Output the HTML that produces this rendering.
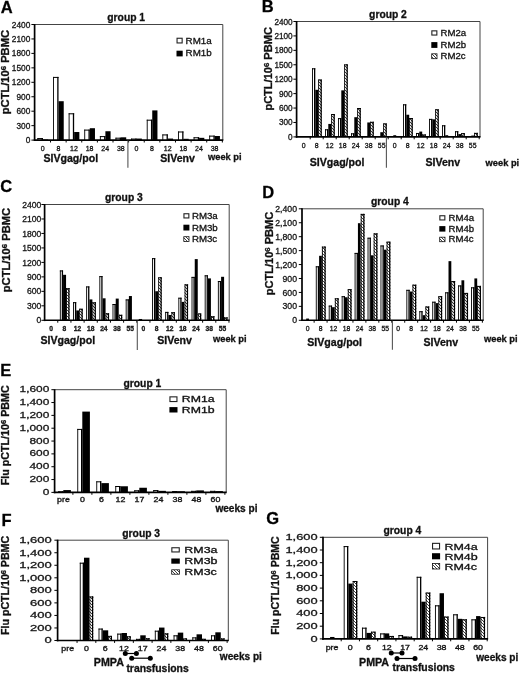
<!DOCTYPE html>
<html><head><meta charset="utf-8"><title>figure</title>
<style>
html,body{margin:0;padding:0;background:#fff;width:520px;height:674px;overflow:hidden;}
svg{display:block;font-family:"Liberation Sans", sans-serif;will-change:transform;}
text{stroke:#111;stroke-width:0.3px;}
</style></head><body>
<svg width="520" height="674" viewBox="0 0 520 674">
<rect width="520" height="674" fill="#fff"/>
<defs>
<pattern id="hatch" patternUnits="userSpaceOnUse" width="3" height="3">
<rect width="3" height="3" fill="#fff"/>
<path d="M-1,-1 L4,4 M-1,2 L1,4 M2,-1 L4,1" stroke="#000" stroke-width="0.75"/>
</pattern>
</defs>
<g>
<rect width="520" height="674" fill="#fff"/>
<line x1="34.60" y1="24.50" x2="222.80" y2="24.50" stroke="#444" stroke-width="1.0"/>
<line x1="222.80" y1="24.50" x2="222.80" y2="140.10" stroke="#444" stroke-width="1.0"/>
<rect x="37.41" y="138.07" width="5.50" height="2.03" fill="#fff"/>
<rect x="37.41" y="138.07" width="0.90" height="2.03" fill="#000"/>
<rect x="37.41" y="138.07" width="5.50" height="1.00" fill="#000"/>
<rect x="41.61" y="138.07" width="1.30" height="2.03" fill="#000"/>
<rect x="42.91" y="139.52" width="5.20" height="0.58" fill="#000"/>
<rect x="53.03" y="76.91" width="5.50" height="63.19" fill="#fff"/>
<rect x="53.03" y="76.91" width="0.90" height="63.19" fill="#000"/>
<rect x="53.03" y="76.91" width="5.50" height="1.00" fill="#000"/>
<rect x="57.23" y="76.91" width="1.30" height="63.19" fill="#000"/>
<rect x="58.53" y="101.21" width="5.20" height="38.89" fill="#000"/>
<rect x="68.65" y="113.29" width="5.50" height="26.81" fill="#fff"/>
<rect x="68.65" y="113.29" width="0.90" height="26.81" fill="#000"/>
<rect x="68.65" y="113.29" width="5.50" height="1.00" fill="#000"/>
<rect x="72.85" y="113.29" width="1.30" height="26.81" fill="#000"/>
<rect x="74.15" y="132.01" width="5.20" height="8.09" fill="#000"/>
<rect x="84.27" y="129.60" width="5.50" height="10.50" fill="#fff"/>
<rect x="84.27" y="129.60" width="0.90" height="10.50" fill="#000"/>
<rect x="84.27" y="129.60" width="5.50" height="1.00" fill="#000"/>
<rect x="88.47" y="129.60" width="1.30" height="10.50" fill="#000"/>
<rect x="89.77" y="128.21" width="5.20" height="11.89" fill="#000"/>
<rect x="99.89" y="136.10" width="5.50" height="4.00" fill="#fff"/>
<rect x="99.89" y="136.10" width="0.90" height="4.00" fill="#000"/>
<rect x="99.89" y="136.10" width="5.50" height="1.00" fill="#000"/>
<rect x="104.09" y="136.10" width="1.30" height="4.00" fill="#000"/>
<rect x="105.39" y="131.24" width="5.20" height="8.86" fill="#000"/>
<rect x="115.51" y="137.69" width="5.50" height="2.41" fill="#fff"/>
<rect x="115.51" y="137.69" width="0.90" height="2.41" fill="#000"/>
<rect x="115.51" y="137.69" width="5.50" height="1.00" fill="#000"/>
<rect x="119.71" y="137.69" width="1.30" height="2.41" fill="#000"/>
<rect x="121.01" y="137.31" width="5.20" height="2.79" fill="#000"/>
<rect x="131.13" y="138.56" width="5.50" height="1.54" fill="#fff"/>
<rect x="131.13" y="138.56" width="0.90" height="1.54" fill="#000"/>
<rect x="131.13" y="138.56" width="5.50" height="1.00" fill="#000"/>
<rect x="135.33" y="138.56" width="1.30" height="1.54" fill="#000"/>
<rect x="136.63" y="138.56" width="5.20" height="1.54" fill="#000"/>
<rect x="146.75" y="119.69" width="5.50" height="20.41" fill="#fff"/>
<rect x="146.75" y="119.69" width="0.90" height="20.41" fill="#000"/>
<rect x="146.75" y="119.69" width="5.50" height="1.00" fill="#000"/>
<rect x="150.95" y="119.69" width="1.30" height="20.41" fill="#000"/>
<rect x="152.25" y="110.40" width="5.20" height="29.70" fill="#000"/>
<rect x="162.37" y="134.42" width="5.50" height="5.68" fill="#fff"/>
<rect x="162.37" y="134.42" width="0.90" height="5.68" fill="#000"/>
<rect x="162.37" y="134.42" width="5.50" height="1.00" fill="#000"/>
<rect x="166.57" y="134.42" width="1.30" height="5.68" fill="#000"/>
<rect x="167.87" y="138.56" width="5.20" height="1.54" fill="#000"/>
<rect x="177.99" y="131.48" width="5.50" height="8.62" fill="#fff"/>
<rect x="177.99" y="131.48" width="0.90" height="8.62" fill="#000"/>
<rect x="177.99" y="131.48" width="5.50" height="1.00" fill="#000"/>
<rect x="182.19" y="131.48" width="1.30" height="8.62" fill="#000"/>
<rect x="183.49" y="138.80" width="5.20" height="1.30" fill="#000"/>
<rect x="193.61" y="137.26" width="5.50" height="2.84" fill="#fff"/>
<rect x="193.61" y="137.26" width="0.90" height="2.84" fill="#000"/>
<rect x="193.61" y="137.26" width="5.50" height="1.00" fill="#000"/>
<rect x="197.81" y="137.26" width="1.30" height="2.84" fill="#000"/>
<rect x="199.11" y="137.83" width="5.20" height="2.27" fill="#000"/>
<rect x="209.23" y="135.62" width="5.50" height="4.48" fill="#fff"/>
<rect x="209.23" y="135.62" width="0.90" height="4.48" fill="#000"/>
<rect x="209.23" y="135.62" width="5.50" height="1.00" fill="#000"/>
<rect x="213.43" y="135.62" width="1.30" height="4.48" fill="#000"/>
<rect x="214.73" y="136.01" width="5.20" height="4.09" fill="#000"/>
<line x1="34.60" y1="24.00" x2="34.60" y2="140.90" stroke="#000" stroke-width="1.7"/>
<line x1="33.80" y1="140.10" x2="223.30" y2="140.10" stroke="#000" stroke-width="1.6"/>
<line x1="31.40" y1="140.10" x2="34.60" y2="140.10" stroke="#000" stroke-width="1.0"/>
<text x="30.30" y="143.10" font-size="8.3" text-anchor="end" fill="#222">0</text>
<line x1="31.40" y1="125.65" x2="34.60" y2="125.65" stroke="#000" stroke-width="1.0"/>
<text x="30.30" y="128.65" font-size="8.3" text-anchor="end" fill="#222">300</text>
<line x1="31.40" y1="111.20" x2="34.60" y2="111.20" stroke="#000" stroke-width="1.0"/>
<text x="30.30" y="114.20" font-size="8.3" text-anchor="end" fill="#222">600</text>
<line x1="31.40" y1="96.75" x2="34.60" y2="96.75" stroke="#000" stroke-width="1.0"/>
<text x="30.30" y="99.75" font-size="8.3" text-anchor="end" fill="#222">900</text>
<line x1="31.40" y1="82.30" x2="34.60" y2="82.30" stroke="#000" stroke-width="1.0"/>
<text x="30.30" y="85.30" font-size="8.3" text-anchor="end" fill="#222">1200</text>
<line x1="31.40" y1="67.85" x2="34.60" y2="67.85" stroke="#000" stroke-width="1.0"/>
<text x="30.30" y="70.85" font-size="8.3" text-anchor="end" fill="#222">1500</text>
<line x1="31.40" y1="53.40" x2="34.60" y2="53.40" stroke="#000" stroke-width="1.0"/>
<text x="30.30" y="56.40" font-size="8.3" text-anchor="end" fill="#222">1800</text>
<line x1="31.40" y1="38.95" x2="34.60" y2="38.95" stroke="#000" stroke-width="1.0"/>
<text x="30.30" y="41.95" font-size="8.3" text-anchor="end" fill="#222">2100</text>
<line x1="31.40" y1="24.50" x2="34.60" y2="24.50" stroke="#000" stroke-width="1.0"/>
<text x="30.30" y="27.50" font-size="8.3" text-anchor="end" fill="#222">2400</text>
<line x1="50.52" y1="140.10" x2="50.52" y2="142.50" stroke="#000" stroke-width="1.0"/>
<line x1="66.14" y1="140.10" x2="66.14" y2="142.50" stroke="#000" stroke-width="1.0"/>
<line x1="81.76" y1="140.10" x2="81.76" y2="142.50" stroke="#000" stroke-width="1.0"/>
<line x1="97.38" y1="140.10" x2="97.38" y2="142.50" stroke="#000" stroke-width="1.0"/>
<line x1="113.00" y1="140.10" x2="113.00" y2="142.50" stroke="#000" stroke-width="1.0"/>
<line x1="128.62" y1="140.10" x2="128.62" y2="142.50" stroke="#000" stroke-width="1.0"/>
<line x1="144.24" y1="140.10" x2="144.24" y2="142.50" stroke="#000" stroke-width="1.0"/>
<line x1="159.86" y1="140.10" x2="159.86" y2="142.50" stroke="#000" stroke-width="1.0"/>
<line x1="175.48" y1="140.10" x2="175.48" y2="142.50" stroke="#000" stroke-width="1.0"/>
<line x1="191.10" y1="140.10" x2="191.10" y2="142.50" stroke="#000" stroke-width="1.0"/>
<line x1="206.72" y1="140.10" x2="206.72" y2="142.50" stroke="#000" stroke-width="1.0"/>
<line x1="222.34" y1="140.10" x2="222.34" y2="142.50" stroke="#000" stroke-width="1.0"/>
<text x="42.71" y="150.80" font-size="7.0" text-anchor="middle" fill="#222">0</text>
<text x="58.33" y="150.80" font-size="7.0" text-anchor="middle" fill="#222">8</text>
<text x="73.95" y="150.80" font-size="7.0" text-anchor="middle" fill="#222">12</text>
<text x="89.57" y="150.80" font-size="7.0" text-anchor="middle" fill="#222">18</text>
<text x="105.19" y="150.80" font-size="7.0" text-anchor="middle" fill="#222">24</text>
<text x="120.81" y="150.80" font-size="7.0" text-anchor="middle" fill="#222">38</text>
<text x="136.43" y="150.80" font-size="7.0" text-anchor="middle" fill="#222">0</text>
<text x="152.05" y="150.80" font-size="7.0" text-anchor="middle" fill="#222">8</text>
<text x="167.67" y="150.80" font-size="7.0" text-anchor="middle" fill="#222">12</text>
<text x="183.29" y="150.80" font-size="7.0" text-anchor="middle" fill="#222">18</text>
<text x="198.91" y="150.80" font-size="7.0" text-anchor="middle" fill="#222">24</text>
<text x="214.53" y="150.80" font-size="7.0" text-anchor="middle" fill="#222">38</text>
<line x1="127.90" y1="140.50" x2="127.90" y2="167.70" stroke="#555" stroke-width="1.1"/>
<rect x="177.05" y="38.25" width="5.10" height="4.70" fill="#fff" stroke="#222" stroke-width="1.1"/>
<text x="185.60" y="43.50" font-size="9.8" fill="#111">RM1a</text>
<rect x="176.50" y="50.70" width="6.20" height="5.70" fill="#000"/>
<text x="185.60" y="56.40" font-size="9.8" fill="#111">RM1b</text>
<text transform="translate(9.00,72.10) rotate(-90) scale(1.114,1)" text-anchor="middle" font-size="10.0" font-weight="bold" fill="#111">pCTL/10<tspan font-size="70%" dy="-3">6</tspan><tspan dy="3"> </tspan>PBMC</text>
<text x="0.80" y="13.00" font-size="16.5" font-weight="bold" fill="#000">A</text>
<text x="107.30" y="21.20" font-size="10.3" font-weight="bold" fill="#111">group 1</text>
<text x="43.40" y="161.50" font-size="10.6" font-weight="bold" fill="#111">SIVgag/pol</text>
<text x="160.20" y="161.50" font-size="10.6" font-weight="bold" fill="#111">SIVenv</text>
<text x="208.00" y="160.20" font-size="9.3" font-weight="bold" fill="#111">week pi</text>
<line x1="296.60" y1="21.50" x2="480.00" y2="21.50" stroke="#444" stroke-width="1.0"/>
<line x1="480.00" y1="21.50" x2="480.00" y2="136.90" stroke="#444" stroke-width="1.0"/>
<rect x="299.00" y="136.52" width="3.30" height="0.38" fill="#fff"/>
<rect x="299.00" y="136.52" width="0.90" height="0.38" fill="#000"/>
<rect x="299.00" y="136.52" width="3.30" height="0.38" fill="#000"/>
<rect x="301.00" y="136.52" width="1.30" height="0.38" fill="#000"/>
<rect x="302.30" y="136.03" width="2.90" height="0.87" fill="#000"/>
<rect x="305.20" y="136.52" width="3.60" height="0.38" fill="url(#hatch)"/>
<rect x="305.20" y="136.52" width="0.90" height="0.38" fill="#000"/>
<rect x="305.20" y="136.52" width="3.60" height="0.38" fill="#000"/>
<rect x="307.50" y="136.52" width="1.30" height="0.38" fill="#000"/>
<rect x="312.00" y="68.30" width="3.30" height="68.60" fill="#fff"/>
<rect x="312.00" y="68.30" width="0.90" height="68.60" fill="#000"/>
<rect x="312.00" y="68.30" width="3.30" height="1.00" fill="#000"/>
<rect x="314.00" y="68.30" width="1.30" height="68.60" fill="#000"/>
<rect x="315.30" y="89.79" width="2.90" height="47.11" fill="#000"/>
<rect x="318.20" y="79.53" width="3.60" height="57.37" fill="url(#hatch)"/>
<rect x="318.20" y="79.53" width="0.90" height="57.37" fill="#000"/>
<rect x="318.20" y="79.53" width="3.60" height="1.00" fill="#000"/>
<rect x="320.50" y="79.53" width="1.30" height="57.37" fill="#000"/>
<rect x="325.00" y="129.30" width="3.30" height="7.60" fill="#fff"/>
<rect x="325.00" y="129.30" width="0.90" height="7.60" fill="#000"/>
<rect x="325.00" y="129.30" width="3.30" height="1.00" fill="#000"/>
<rect x="327.00" y="129.30" width="1.30" height="7.60" fill="#000"/>
<rect x="328.30" y="123.93" width="2.90" height="12.97" fill="#000"/>
<rect x="331.20" y="114.00" width="3.60" height="22.90" fill="url(#hatch)"/>
<rect x="331.20" y="114.00" width="0.90" height="22.90" fill="#000"/>
<rect x="331.20" y="114.00" width="3.60" height="1.00" fill="#000"/>
<rect x="333.50" y="114.00" width="1.30" height="22.90" fill="#000"/>
<rect x="338.00" y="118.12" width="3.30" height="18.78" fill="#fff"/>
<rect x="338.00" y="118.12" width="0.90" height="18.78" fill="#000"/>
<rect x="338.00" y="118.12" width="3.30" height="1.00" fill="#000"/>
<rect x="340.00" y="118.12" width="1.30" height="18.78" fill="#000"/>
<rect x="341.30" y="90.37" width="2.90" height="46.53" fill="#000"/>
<rect x="344.20" y="64.38" width="3.60" height="72.53" fill="url(#hatch)"/>
<rect x="344.20" y="64.38" width="0.90" height="72.53" fill="#000"/>
<rect x="344.20" y="64.38" width="3.60" height="1.00" fill="#000"/>
<rect x="346.50" y="64.38" width="1.30" height="72.53" fill="#000"/>
<rect x="351.00" y="133.32" width="3.30" height="3.58" fill="#fff"/>
<rect x="351.00" y="133.32" width="0.90" height="3.58" fill="#000"/>
<rect x="351.00" y="133.32" width="3.30" height="1.00" fill="#000"/>
<rect x="353.00" y="133.32" width="1.30" height="3.58" fill="#000"/>
<rect x="354.30" y="117.20" width="2.90" height="19.70" fill="#000"/>
<rect x="357.20" y="108.00" width="3.60" height="28.90" fill="url(#hatch)"/>
<rect x="357.20" y="108.00" width="0.90" height="28.90" fill="#000"/>
<rect x="357.20" y="108.00" width="3.60" height="1.00" fill="#000"/>
<rect x="359.50" y="108.00" width="1.30" height="28.90" fill="#000"/>
<rect x="367.30" y="122.47" width="2.90" height="14.43" fill="#000"/>
<rect x="370.20" y="121.80" width="3.60" height="15.10" fill="url(#hatch)"/>
<rect x="370.20" y="121.80" width="0.90" height="15.10" fill="#000"/>
<rect x="370.20" y="121.80" width="3.60" height="1.00" fill="#000"/>
<rect x="372.50" y="121.80" width="1.30" height="15.10" fill="#000"/>
<rect x="380.30" y="132.21" width="2.90" height="4.69" fill="#000"/>
<rect x="383.20" y="123.44" width="3.60" height="13.46" fill="url(#hatch)"/>
<rect x="383.20" y="123.44" width="0.90" height="13.46" fill="#000"/>
<rect x="383.20" y="123.44" width="3.60" height="1.00" fill="#000"/>
<rect x="385.50" y="123.44" width="1.30" height="13.46" fill="#000"/>
<rect x="393.30" y="135.21" width="2.90" height="1.69" fill="#000"/>
<rect x="403.00" y="104.32" width="3.30" height="32.58" fill="#fff"/>
<rect x="403.00" y="104.32" width="0.90" height="32.58" fill="#000"/>
<rect x="403.00" y="104.32" width="3.30" height="1.00" fill="#000"/>
<rect x="405.00" y="104.32" width="1.30" height="32.58" fill="#000"/>
<rect x="406.30" y="114.73" width="2.90" height="22.17" fill="#000"/>
<rect x="409.20" y="118.02" width="3.60" height="18.88" fill="url(#hatch)"/>
<rect x="409.20" y="118.02" width="0.90" height="18.88" fill="#000"/>
<rect x="409.20" y="118.02" width="3.60" height="1.00" fill="#000"/>
<rect x="411.50" y="118.02" width="1.30" height="18.88" fill="#000"/>
<rect x="416.00" y="132.98" width="3.30" height="3.92" fill="#fff"/>
<rect x="416.00" y="132.98" width="0.90" height="3.92" fill="#000"/>
<rect x="416.00" y="132.98" width="3.30" height="1.00" fill="#000"/>
<rect x="418.00" y="132.98" width="1.30" height="3.92" fill="#000"/>
<rect x="419.30" y="131.58" width="2.90" height="5.32" fill="#000"/>
<rect x="422.20" y="134.48" width="3.60" height="2.42" fill="url(#hatch)"/>
<rect x="422.20" y="134.48" width="0.90" height="2.42" fill="#000"/>
<rect x="422.20" y="134.48" width="3.60" height="1.00" fill="#000"/>
<rect x="424.50" y="134.48" width="1.30" height="2.42" fill="#000"/>
<rect x="429.00" y="118.89" width="3.30" height="18.01" fill="#fff"/>
<rect x="429.00" y="118.89" width="0.90" height="18.01" fill="#000"/>
<rect x="429.00" y="118.89" width="3.30" height="1.00" fill="#000"/>
<rect x="431.00" y="118.89" width="1.30" height="18.01" fill="#000"/>
<rect x="432.30" y="119.33" width="2.90" height="17.57" fill="#000"/>
<rect x="435.20" y="109.31" width="3.60" height="27.59" fill="url(#hatch)"/>
<rect x="435.20" y="109.31" width="0.90" height="27.59" fill="#000"/>
<rect x="435.20" y="109.31" width="3.60" height="1.00" fill="#000"/>
<rect x="437.50" y="109.31" width="1.30" height="27.59" fill="#000"/>
<rect x="442.00" y="125.28" width="3.30" height="11.62" fill="#fff"/>
<rect x="442.00" y="125.28" width="0.90" height="11.62" fill="#000"/>
<rect x="442.00" y="125.28" width="3.30" height="1.00" fill="#000"/>
<rect x="444.00" y="125.28" width="1.30" height="11.62" fill="#000"/>
<rect x="445.30" y="135.21" width="2.90" height="1.69" fill="#000"/>
<rect x="448.20" y="136.42" width="3.60" height="0.48" fill="url(#hatch)"/>
<rect x="448.20" y="136.42" width="0.90" height="0.48" fill="#000"/>
<rect x="448.20" y="136.42" width="3.60" height="0.48" fill="#000"/>
<rect x="450.50" y="136.42" width="1.30" height="0.48" fill="#000"/>
<rect x="455.00" y="131.24" width="3.30" height="5.66" fill="#fff"/>
<rect x="455.00" y="131.24" width="0.90" height="5.66" fill="#000"/>
<rect x="455.00" y="131.24" width="3.30" height="1.00" fill="#000"/>
<rect x="457.00" y="131.24" width="1.30" height="5.66" fill="#000"/>
<rect x="458.30" y="134.09" width="2.90" height="2.81" fill="#000"/>
<rect x="461.20" y="133.13" width="3.60" height="3.77" fill="url(#hatch)"/>
<rect x="461.20" y="133.13" width="0.90" height="3.77" fill="#000"/>
<rect x="461.20" y="133.13" width="3.60" height="1.00" fill="#000"/>
<rect x="463.50" y="133.13" width="1.30" height="3.77" fill="#000"/>
<rect x="468.00" y="136.52" width="3.30" height="0.38" fill="#fff"/>
<rect x="468.00" y="136.52" width="0.90" height="0.38" fill="#000"/>
<rect x="468.00" y="136.52" width="3.30" height="0.38" fill="#000"/>
<rect x="470.00" y="136.52" width="1.30" height="0.38" fill="#000"/>
<rect x="471.30" y="135.55" width="2.90" height="1.35" fill="#000"/>
<rect x="474.20" y="132.88" width="3.60" height="4.02" fill="url(#hatch)"/>
<rect x="474.20" y="132.88" width="0.90" height="4.02" fill="#000"/>
<rect x="474.20" y="132.88" width="3.60" height="1.00" fill="#000"/>
<rect x="476.50" y="132.88" width="1.30" height="4.02" fill="#000"/>
<line x1="296.60" y1="21.00" x2="296.60" y2="137.70" stroke="#000" stroke-width="1.7"/>
<line x1="295.80" y1="136.90" x2="480.50" y2="136.90" stroke="#000" stroke-width="1.6"/>
<line x1="293.40" y1="136.90" x2="296.60" y2="136.90" stroke="#000" stroke-width="1.0"/>
<text x="292.60" y="139.90" font-size="8.2" text-anchor="end" fill="#222">0</text>
<line x1="293.40" y1="122.48" x2="296.60" y2="122.48" stroke="#000" stroke-width="1.0"/>
<text x="292.60" y="125.48" font-size="8.2" text-anchor="end" fill="#222">300</text>
<line x1="293.40" y1="108.05" x2="296.60" y2="108.05" stroke="#000" stroke-width="1.0"/>
<text x="292.60" y="111.05" font-size="8.2" text-anchor="end" fill="#222">600</text>
<line x1="293.40" y1="93.62" x2="296.60" y2="93.62" stroke="#000" stroke-width="1.0"/>
<text x="292.60" y="96.62" font-size="8.2" text-anchor="end" fill="#222">900</text>
<line x1="293.40" y1="79.20" x2="296.60" y2="79.20" stroke="#000" stroke-width="1.0"/>
<text x="292.60" y="82.20" font-size="8.2" text-anchor="end" fill="#222">1200</text>
<line x1="293.40" y1="64.77" x2="296.60" y2="64.77" stroke="#000" stroke-width="1.0"/>
<text x="292.60" y="67.77" font-size="8.2" text-anchor="end" fill="#222">1500</text>
<line x1="293.40" y1="50.35" x2="296.60" y2="50.35" stroke="#000" stroke-width="1.0"/>
<text x="292.60" y="53.35" font-size="8.2" text-anchor="end" fill="#222">1800</text>
<line x1="293.40" y1="35.92" x2="296.60" y2="35.92" stroke="#000" stroke-width="1.0"/>
<text x="292.60" y="38.92" font-size="8.2" text-anchor="end" fill="#222">2100</text>
<line x1="293.40" y1="21.50" x2="296.60" y2="21.50" stroke="#000" stroke-width="1.0"/>
<text x="292.60" y="24.50" font-size="8.2" text-anchor="end" fill="#222">2400</text>
<line x1="310.20" y1="136.90" x2="310.20" y2="139.30" stroke="#000" stroke-width="1.0"/>
<line x1="323.20" y1="136.90" x2="323.20" y2="139.30" stroke="#000" stroke-width="1.0"/>
<line x1="336.20" y1="136.90" x2="336.20" y2="139.30" stroke="#000" stroke-width="1.0"/>
<line x1="349.20" y1="136.90" x2="349.20" y2="139.30" stroke="#000" stroke-width="1.0"/>
<line x1="362.20" y1="136.90" x2="362.20" y2="139.30" stroke="#000" stroke-width="1.0"/>
<line x1="375.20" y1="136.90" x2="375.20" y2="139.30" stroke="#000" stroke-width="1.0"/>
<line x1="388.20" y1="136.90" x2="388.20" y2="139.30" stroke="#000" stroke-width="1.0"/>
<line x1="401.20" y1="136.90" x2="401.20" y2="139.30" stroke="#000" stroke-width="1.0"/>
<line x1="414.20" y1="136.90" x2="414.20" y2="139.30" stroke="#000" stroke-width="1.0"/>
<line x1="427.20" y1="136.90" x2="427.20" y2="139.30" stroke="#000" stroke-width="1.0"/>
<line x1="440.20" y1="136.90" x2="440.20" y2="139.30" stroke="#000" stroke-width="1.0"/>
<line x1="453.20" y1="136.90" x2="453.20" y2="139.30" stroke="#000" stroke-width="1.0"/>
<line x1="466.20" y1="136.90" x2="466.20" y2="139.30" stroke="#000" stroke-width="1.0"/>
<line x1="479.20" y1="136.90" x2="479.20" y2="139.30" stroke="#000" stroke-width="1.0"/>
<text x="303.70" y="148.20" font-size="6.9" text-anchor="middle" fill="#222">0</text>
<text x="316.70" y="148.20" font-size="6.9" text-anchor="middle" fill="#222">8</text>
<text x="329.70" y="148.20" font-size="6.9" text-anchor="middle" fill="#222">12</text>
<text x="342.70" y="148.20" font-size="6.9" text-anchor="middle" fill="#222">18</text>
<text x="355.70" y="148.20" font-size="6.9" text-anchor="middle" fill="#222">24</text>
<text x="368.70" y="148.20" font-size="6.9" text-anchor="middle" fill="#222">38</text>
<text x="381.70" y="148.20" font-size="6.9" text-anchor="middle" fill="#222">55</text>
<text x="394.70" y="148.20" font-size="6.9" text-anchor="middle" fill="#222">0</text>
<text x="407.70" y="148.20" font-size="6.9" text-anchor="middle" fill="#222">8</text>
<text x="420.70" y="148.20" font-size="6.9" text-anchor="middle" fill="#222">12</text>
<text x="433.70" y="148.20" font-size="6.9" text-anchor="middle" fill="#222">18</text>
<text x="446.70" y="148.20" font-size="6.9" text-anchor="middle" fill="#222">24</text>
<text x="459.70" y="148.20" font-size="6.9" text-anchor="middle" fill="#222">38</text>
<text x="472.70" y="148.20" font-size="6.9" text-anchor="middle" fill="#222">55</text>
<line x1="386.40" y1="137.50" x2="386.40" y2="167.70" stroke="#555" stroke-width="1.1"/>
<rect x="431.85" y="30.85" width="5.00" height="4.20" fill="#fff" stroke="#222" stroke-width="1.1"/>
<text x="440.50" y="35.60" font-size="9.6" fill="#111">RM2a</text>
<rect x="431.30" y="42.10" width="6.10" height="5.80" fill="#000"/>
<text x="440.50" y="47.90" font-size="9.6" fill="#111">RM2b</text>
<rect x="431.70" y="53.80" width="5.30" height="4.90" fill="url(#hatch)" stroke="#111" stroke-width="0.8"/>
<text x="440.50" y="59.10" font-size="9.6" fill="#111">RM2c</text>
<text transform="translate(272.30,68.85) rotate(-90) scale(1.107,1)" text-anchor="middle" font-size="10.0" font-weight="bold" fill="#111">pCTL/10<tspan font-size="70%" dy="-3">6</tspan><tspan dy="3"> </tspan>PBMC</text>
<text x="261.70" y="11.60" font-size="16.5" font-weight="bold" fill="#000">B</text>
<text x="369.10" y="18.20" font-size="10.3" font-weight="bold" fill="#111">group 2</text>
<text x="309.70" y="166.10" font-size="10.6" font-weight="bold" fill="#111">SIVgag/pol</text>
<text x="425.40" y="166.20" font-size="10.6" font-weight="bold" fill="#111">SIVenv</text>
<text x="485.60" y="166.20" font-size="9.3" font-weight="bold" fill="#111">week pi</text>
<line x1="44.60" y1="204.50" x2="229.20" y2="204.50" stroke="#444" stroke-width="1.0"/>
<line x1="229.20" y1="204.50" x2="229.20" y2="320.30" stroke="#444" stroke-width="1.0"/>
<rect x="59.86" y="270.42" width="3.20" height="49.88" fill="#fff"/>
<rect x="59.86" y="270.42" width="0.90" height="49.88" fill="#000"/>
<rect x="59.86" y="270.42" width="3.20" height="1.00" fill="#000"/>
<rect x="61.76" y="270.42" width="1.30" height="49.88" fill="#000"/>
<rect x="63.06" y="274.81" width="3.00" height="45.49" fill="#000"/>
<rect x="66.06" y="288.20" width="3.50" height="32.10" fill="url(#hatch)"/>
<rect x="66.06" y="288.20" width="0.90" height="32.10" fill="#000"/>
<rect x="66.06" y="288.20" width="3.50" height="1.00" fill="#000"/>
<rect x="68.26" y="288.20" width="1.30" height="32.10" fill="#000"/>
<rect x="73.03" y="302.17" width="3.20" height="18.13" fill="#fff"/>
<rect x="73.03" y="302.17" width="0.90" height="18.13" fill="#000"/>
<rect x="73.03" y="302.17" width="3.20" height="1.00" fill="#000"/>
<rect x="74.93" y="302.17" width="1.30" height="18.13" fill="#000"/>
<rect x="76.23" y="310.44" width="3.00" height="9.86" fill="#000"/>
<rect x="79.23" y="308.75" width="3.50" height="11.56" fill="url(#hatch)"/>
<rect x="79.23" y="308.75" width="0.90" height="11.56" fill="#000"/>
<rect x="79.23" y="308.75" width="3.50" height="1.00" fill="#000"/>
<rect x="81.43" y="308.75" width="1.30" height="11.56" fill="#000"/>
<rect x="86.19" y="286.41" width="3.20" height="33.89" fill="#fff"/>
<rect x="86.19" y="286.41" width="0.90" height="33.89" fill="#000"/>
<rect x="86.19" y="286.41" width="3.20" height="1.00" fill="#000"/>
<rect x="88.09" y="286.41" width="1.30" height="33.89" fill="#000"/>
<rect x="89.39" y="299.42" width="3.00" height="20.88" fill="#000"/>
<rect x="92.39" y="302.32" width="3.50" height="17.98" fill="url(#hatch)"/>
<rect x="92.39" y="302.32" width="0.90" height="17.98" fill="#000"/>
<rect x="92.39" y="302.32" width="3.50" height="1.00" fill="#000"/>
<rect x="94.59" y="302.32" width="1.30" height="17.98" fill="#000"/>
<rect x="99.37" y="276.12" width="3.20" height="44.18" fill="#fff"/>
<rect x="99.37" y="276.12" width="0.90" height="44.18" fill="#000"/>
<rect x="99.37" y="276.12" width="3.20" height="1.00" fill="#000"/>
<rect x="101.27" y="276.12" width="1.30" height="44.18" fill="#000"/>
<rect x="102.57" y="298.31" width="3.00" height="22.00" fill="#000"/>
<rect x="105.57" y="313.29" width="3.50" height="7.01" fill="url(#hatch)"/>
<rect x="105.57" y="313.29" width="0.90" height="7.01" fill="#000"/>
<rect x="105.57" y="313.29" width="3.50" height="1.00" fill="#000"/>
<rect x="107.77" y="313.29" width="1.30" height="7.01" fill="#000"/>
<rect x="112.53" y="304.01" width="3.20" height="16.29" fill="#fff"/>
<rect x="112.53" y="304.01" width="0.90" height="16.29" fill="#000"/>
<rect x="112.53" y="304.01" width="3.20" height="1.00" fill="#000"/>
<rect x="114.44" y="304.01" width="1.30" height="16.29" fill="#000"/>
<rect x="115.73" y="298.59" width="3.00" height="21.71" fill="#000"/>
<rect x="118.73" y="314.79" width="3.50" height="5.51" fill="url(#hatch)"/>
<rect x="118.73" y="314.79" width="0.90" height="5.51" fill="#000"/>
<rect x="118.73" y="314.79" width="3.50" height="1.00" fill="#000"/>
<rect x="120.94" y="314.79" width="1.30" height="5.51" fill="#000"/>
<rect x="125.71" y="299.42" width="3.20" height="20.88" fill="#fff"/>
<rect x="125.71" y="299.42" width="0.90" height="20.88" fill="#000"/>
<rect x="125.71" y="299.42" width="3.20" height="1.00" fill="#000"/>
<rect x="127.61" y="299.42" width="1.30" height="20.88" fill="#000"/>
<rect x="128.91" y="296.03" width="3.00" height="24.27" fill="#000"/>
<rect x="138.88" y="318.99" width="3.20" height="1.31" fill="#fff"/>
<rect x="138.88" y="318.99" width="0.90" height="1.31" fill="#000"/>
<rect x="138.88" y="318.99" width="3.20" height="1.00" fill="#000"/>
<rect x="140.77" y="318.99" width="1.30" height="1.31" fill="#000"/>
<rect x="152.04" y="258.14" width="3.20" height="62.16" fill="#fff"/>
<rect x="152.04" y="258.14" width="0.90" height="62.16" fill="#000"/>
<rect x="152.04" y="258.14" width="3.20" height="1.00" fill="#000"/>
<rect x="153.94" y="258.14" width="1.30" height="62.16" fill="#000"/>
<rect x="155.24" y="291.25" width="3.00" height="29.05" fill="#000"/>
<rect x="158.24" y="277.28" width="3.50" height="43.02" fill="url(#hatch)"/>
<rect x="158.24" y="277.28" width="0.90" height="43.02" fill="#000"/>
<rect x="158.24" y="277.28" width="3.50" height="1.00" fill="#000"/>
<rect x="160.44" y="277.28" width="1.30" height="43.02" fill="#000"/>
<rect x="165.22" y="311.89" width="3.20" height="8.41" fill="#fff"/>
<rect x="165.22" y="311.89" width="0.90" height="8.41" fill="#000"/>
<rect x="165.22" y="311.89" width="3.20" height="1.00" fill="#000"/>
<rect x="167.11" y="311.89" width="1.30" height="8.41" fill="#000"/>
<rect x="168.41" y="314.98" width="3.00" height="5.32" fill="#000"/>
<rect x="171.41" y="312.22" width="3.50" height="8.08" fill="url(#hatch)"/>
<rect x="171.41" y="312.22" width="0.90" height="8.08" fill="#000"/>
<rect x="171.41" y="312.22" width="3.50" height="1.00" fill="#000"/>
<rect x="173.61" y="312.22" width="1.30" height="8.08" fill="#000"/>
<rect x="178.38" y="297.72" width="3.20" height="22.58" fill="#fff"/>
<rect x="178.38" y="297.72" width="0.90" height="22.58" fill="#000"/>
<rect x="178.38" y="297.72" width="3.20" height="1.00" fill="#000"/>
<rect x="180.28" y="297.72" width="1.30" height="22.58" fill="#000"/>
<rect x="181.58" y="301.88" width="3.00" height="18.42" fill="#000"/>
<rect x="184.58" y="284.38" width="3.50" height="35.92" fill="url(#hatch)"/>
<rect x="184.58" y="284.38" width="0.90" height="35.92" fill="#000"/>
<rect x="184.58" y="284.38" width="3.50" height="1.00" fill="#000"/>
<rect x="186.78" y="284.38" width="1.30" height="35.92" fill="#000"/>
<rect x="191.56" y="276.89" width="3.20" height="43.41" fill="#fff"/>
<rect x="191.56" y="276.89" width="0.90" height="43.41" fill="#000"/>
<rect x="191.56" y="276.89" width="3.20" height="1.00" fill="#000"/>
<rect x="193.45" y="276.89" width="1.30" height="43.41" fill="#000"/>
<rect x="194.75" y="259.11" width="3.00" height="61.19" fill="#000"/>
<rect x="197.75" y="313.48" width="3.50" height="6.82" fill="url(#hatch)"/>
<rect x="197.75" y="313.48" width="0.90" height="6.82" fill="#000"/>
<rect x="197.75" y="313.48" width="3.50" height="1.00" fill="#000"/>
<rect x="199.95" y="313.48" width="1.30" height="6.82" fill="#000"/>
<rect x="204.72" y="275.30" width="3.20" height="45.00" fill="#fff"/>
<rect x="204.72" y="275.30" width="0.90" height="45.00" fill="#000"/>
<rect x="204.72" y="275.30" width="3.20" height="1.00" fill="#000"/>
<rect x="206.62" y="275.30" width="1.30" height="45.00" fill="#000"/>
<rect x="207.92" y="278.39" width="3.00" height="41.91" fill="#000"/>
<rect x="210.92" y="316.28" width="3.50" height="4.02" fill="url(#hatch)"/>
<rect x="210.92" y="316.28" width="0.90" height="4.02" fill="#000"/>
<rect x="210.92" y="316.28" width="3.50" height="1.00" fill="#000"/>
<rect x="213.12" y="316.28" width="1.30" height="4.02" fill="#000"/>
<rect x="217.89" y="281.00" width="3.20" height="39.30" fill="#fff"/>
<rect x="217.89" y="281.00" width="0.90" height="39.30" fill="#000"/>
<rect x="217.89" y="281.00" width="3.20" height="1.00" fill="#000"/>
<rect x="219.79" y="281.00" width="1.30" height="39.30" fill="#000"/>
<rect x="221.09" y="276.80" width="3.00" height="43.50" fill="#000"/>
<rect x="224.09" y="317.40" width="3.50" height="2.90" fill="url(#hatch)"/>
<rect x="224.09" y="317.40" width="0.90" height="2.90" fill="#000"/>
<rect x="224.09" y="317.40" width="3.50" height="1.00" fill="#000"/>
<rect x="226.29" y="317.40" width="1.30" height="2.90" fill="#000"/>
<line x1="44.60" y1="204.00" x2="44.60" y2="321.10" stroke="#000" stroke-width="1.7"/>
<line x1="43.80" y1="320.30" x2="229.70" y2="320.30" stroke="#000" stroke-width="1.6"/>
<line x1="41.40" y1="320.30" x2="44.60" y2="320.30" stroke="#000" stroke-width="1.0"/>
<text x="41.40" y="323.40" font-size="8.6" text-anchor="end" fill="#222">0</text>
<line x1="41.40" y1="305.82" x2="44.60" y2="305.82" stroke="#000" stroke-width="1.0"/>
<text x="41.40" y="308.93" font-size="8.6" text-anchor="end" fill="#222">300</text>
<line x1="41.40" y1="291.35" x2="44.60" y2="291.35" stroke="#000" stroke-width="1.0"/>
<text x="41.40" y="294.45" font-size="8.6" text-anchor="end" fill="#222">600</text>
<line x1="41.40" y1="276.88" x2="44.60" y2="276.88" stroke="#000" stroke-width="1.0"/>
<text x="41.40" y="279.98" font-size="8.6" text-anchor="end" fill="#222">900</text>
<line x1="41.40" y1="262.40" x2="44.60" y2="262.40" stroke="#000" stroke-width="1.0"/>
<text x="41.40" y="265.50" font-size="8.6" text-anchor="end" fill="#222">1200</text>
<line x1="41.40" y1="247.93" x2="44.60" y2="247.93" stroke="#000" stroke-width="1.0"/>
<text x="41.40" y="251.03" font-size="8.6" text-anchor="end" fill="#222">1500</text>
<line x1="41.40" y1="233.45" x2="44.60" y2="233.45" stroke="#000" stroke-width="1.0"/>
<text x="41.40" y="236.55" font-size="8.6" text-anchor="end" fill="#222">1800</text>
<line x1="41.40" y1="218.97" x2="44.60" y2="218.97" stroke="#000" stroke-width="1.0"/>
<text x="41.40" y="222.07" font-size="8.6" text-anchor="end" fill="#222">2100</text>
<line x1="41.40" y1="204.50" x2="44.60" y2="204.50" stroke="#000" stroke-width="1.0"/>
<text x="41.40" y="207.60" font-size="8.6" text-anchor="end" fill="#222">2400</text>
<line x1="57.77" y1="320.30" x2="57.77" y2="322.70" stroke="#000" stroke-width="1.0"/>
<line x1="70.94" y1="320.30" x2="70.94" y2="322.70" stroke="#000" stroke-width="1.0"/>
<line x1="84.11" y1="320.30" x2="84.11" y2="322.70" stroke="#000" stroke-width="1.0"/>
<line x1="97.28" y1="320.30" x2="97.28" y2="322.70" stroke="#000" stroke-width="1.0"/>
<line x1="110.45" y1="320.30" x2="110.45" y2="322.70" stroke="#000" stroke-width="1.0"/>
<line x1="123.62" y1="320.30" x2="123.62" y2="322.70" stroke="#000" stroke-width="1.0"/>
<line x1="136.79" y1="320.30" x2="136.79" y2="322.70" stroke="#000" stroke-width="1.0"/>
<line x1="149.96" y1="320.30" x2="149.96" y2="322.70" stroke="#000" stroke-width="1.0"/>
<line x1="163.13" y1="320.30" x2="163.13" y2="322.70" stroke="#000" stroke-width="1.0"/>
<line x1="176.30" y1="320.30" x2="176.30" y2="322.70" stroke="#000" stroke-width="1.0"/>
<line x1="189.47" y1="320.30" x2="189.47" y2="322.70" stroke="#000" stroke-width="1.0"/>
<line x1="202.64" y1="320.30" x2="202.64" y2="322.70" stroke="#000" stroke-width="1.0"/>
<line x1="215.81" y1="320.30" x2="215.81" y2="322.70" stroke="#000" stroke-width="1.0"/>
<line x1="228.98" y1="320.30" x2="228.98" y2="322.70" stroke="#000" stroke-width="1.0"/>
<text x="51.19" y="331.00" font-size="6.7" font-weight="bold" text-anchor="middle" fill="#222">0</text>
<text x="64.36" y="331.00" font-size="6.7" font-weight="bold" text-anchor="middle" fill="#222">8</text>
<text x="77.53" y="331.00" font-size="6.7" font-weight="bold" text-anchor="middle" fill="#222">12</text>
<text x="90.69" y="331.00" font-size="6.7" font-weight="bold" text-anchor="middle" fill="#222">18</text>
<text x="103.87" y="331.00" font-size="6.7" font-weight="bold" text-anchor="middle" fill="#222">24</text>
<text x="117.03" y="331.00" font-size="6.7" font-weight="bold" text-anchor="middle" fill="#222">38</text>
<text x="130.21" y="331.00" font-size="6.7" font-weight="bold" text-anchor="middle" fill="#222">55</text>
<text x="143.38" y="331.00" font-size="6.7" font-weight="bold" text-anchor="middle" fill="#222">0</text>
<text x="156.54" y="331.00" font-size="6.7" font-weight="bold" text-anchor="middle" fill="#222">8</text>
<text x="169.72" y="331.00" font-size="6.7" font-weight="bold" text-anchor="middle" fill="#222">12</text>
<text x="182.88" y="331.00" font-size="6.7" font-weight="bold" text-anchor="middle" fill="#222">18</text>
<text x="196.06" y="331.00" font-size="6.7" font-weight="bold" text-anchor="middle" fill="#222">24</text>
<text x="209.22" y="331.00" font-size="6.7" font-weight="bold" text-anchor="middle" fill="#222">38</text>
<text x="222.39" y="331.00" font-size="6.7" font-weight="bold" text-anchor="middle" fill="#222">55</text>
<line x1="137.30" y1="320.80" x2="137.30" y2="350.00" stroke="#555" stroke-width="1.1"/>
<rect x="183.95" y="213.75" width="4.90" height="4.20" fill="#fff" stroke="#222" stroke-width="1.1"/>
<text x="191.90" y="218.70" font-size="9.7" fill="#111">RM3a</text>
<rect x="183.40" y="224.70" width="6.00" height="5.80" fill="#000"/>
<text x="191.90" y="230.80" font-size="9.7" fill="#111">RM3b</text>
<rect x="183.80" y="236.70" width="5.20" height="4.90" fill="url(#hatch)" stroke="#111" stroke-width="0.8"/>
<text x="191.90" y="242.30" font-size="9.7" fill="#111">RM3c</text>
<text transform="translate(10.20,250.10) rotate(-90) scale(1.116,1)" text-anchor="middle" font-size="10.0" font-weight="bold" fill="#111">pCTL/10<tspan font-size="70%" dy="-3">6</tspan><tspan dy="3"> </tspan>PBMC</text>
<text x="0.30" y="192.30" font-size="16.5" font-weight="bold" fill="#000">C</text>
<text x="105.00" y="200.60" font-size="10.3" font-weight="bold" fill="#111">group 3</text>
<text x="40.40" y="344.30" font-size="10.6" font-weight="bold" fill="#111">SIVgag/pol</text>
<text x="157.20" y="344.30" font-size="10.6" font-weight="bold" fill="#111">SIVenv</text>
<text x="213.00" y="342.30" font-size="9.3" font-weight="bold" fill="#111">week pi</text>
<line x1="302.00" y1="208.80" x2="483.20" y2="208.80" stroke="#444" stroke-width="1.0"/>
<line x1="483.20" y1="208.80" x2="483.20" y2="320.30" stroke="#444" stroke-width="1.0"/>
<rect x="306.17" y="318.56" width="2.80" height="1.74" fill="#000"/>
<rect x="315.81" y="266.30" width="3.30" height="54.00" fill="#fff"/>
<rect x="315.81" y="266.30" width="0.90" height="54.00" fill="#000"/>
<rect x="315.81" y="266.30" width="3.30" height="1.00" fill="#000"/>
<rect x="317.81" y="266.30" width="1.30" height="54.00" fill="#000"/>
<rect x="319.11" y="255.81" width="2.80" height="64.49" fill="#000"/>
<rect x="321.91" y="246.60" width="3.80" height="73.70" fill="url(#hatch)"/>
<rect x="321.91" y="246.60" width="0.90" height="73.70" fill="#000"/>
<rect x="321.91" y="246.60" width="3.80" height="1.00" fill="#000"/>
<rect x="324.41" y="246.60" width="1.30" height="73.70" fill="#000"/>
<rect x="328.75" y="305.60" width="3.30" height="14.70" fill="#fff"/>
<rect x="328.75" y="305.60" width="0.90" height="14.70" fill="#000"/>
<rect x="328.75" y="305.60" width="3.30" height="1.00" fill="#000"/>
<rect x="330.75" y="305.60" width="1.30" height="14.70" fill="#000"/>
<rect x="332.05" y="307.19" width="2.80" height="13.11" fill="#000"/>
<rect x="334.85" y="298.30" width="3.80" height="22.00" fill="url(#hatch)"/>
<rect x="334.85" y="298.30" width="0.90" height="22.00" fill="#000"/>
<rect x="334.85" y="298.30" width="3.80" height="1.00" fill="#000"/>
<rect x="337.35" y="298.30" width="1.30" height="22.00" fill="#000"/>
<rect x="341.69" y="296.20" width="3.30" height="24.10" fill="#fff"/>
<rect x="341.69" y="296.20" width="0.90" height="24.10" fill="#000"/>
<rect x="341.69" y="296.20" width="3.30" height="1.00" fill="#000"/>
<rect x="343.69" y="296.20" width="1.30" height="24.10" fill="#000"/>
<rect x="344.99" y="297.27" width="2.80" height="23.03" fill="#000"/>
<rect x="347.79" y="289.18" width="3.80" height="31.12" fill="url(#hatch)"/>
<rect x="347.79" y="289.18" width="0.90" height="31.12" fill="#000"/>
<rect x="347.79" y="289.18" width="3.80" height="1.00" fill="#000"/>
<rect x="350.29" y="289.18" width="1.30" height="31.12" fill="#000"/>
<rect x="354.63" y="252.91" width="3.30" height="67.39" fill="#fff"/>
<rect x="354.63" y="252.91" width="0.90" height="67.39" fill="#000"/>
<rect x="354.63" y="252.91" width="3.30" height="1.00" fill="#000"/>
<rect x="356.63" y="252.91" width="1.30" height="67.39" fill="#000"/>
<rect x="357.93" y="223.20" width="2.80" height="97.10" fill="#000"/>
<rect x="360.73" y="213.89" width="3.80" height="106.41" fill="url(#hatch)"/>
<rect x="360.73" y="213.89" width="0.90" height="106.41" fill="#000"/>
<rect x="360.73" y="213.89" width="3.80" height="1.00" fill="#000"/>
<rect x="363.23" y="213.89" width="1.30" height="106.41" fill="#000"/>
<rect x="367.57" y="237.71" width="3.30" height="82.59" fill="#fff"/>
<rect x="367.57" y="237.71" width="0.90" height="82.59" fill="#000"/>
<rect x="367.57" y="237.71" width="3.30" height="1.00" fill="#000"/>
<rect x="369.57" y="237.71" width="1.30" height="82.59" fill="#000"/>
<rect x="370.87" y="255.30" width="2.80" height="65.00" fill="#000"/>
<rect x="373.67" y="233.40" width="3.80" height="86.90" fill="url(#hatch)"/>
<rect x="373.67" y="233.40" width="0.90" height="86.90" fill="#000"/>
<rect x="373.67" y="233.40" width="3.80" height="1.00" fill="#000"/>
<rect x="376.17" y="233.40" width="1.30" height="86.90" fill="#000"/>
<rect x="380.51" y="245.47" width="3.30" height="74.83" fill="#fff"/>
<rect x="380.51" y="245.47" width="0.90" height="74.83" fill="#000"/>
<rect x="380.51" y="245.47" width="3.30" height="1.00" fill="#000"/>
<rect x="382.51" y="245.47" width="1.30" height="74.83" fill="#000"/>
<rect x="383.81" y="249.68" width="2.80" height="70.62" fill="#000"/>
<rect x="386.61" y="241.68" width="3.80" height="78.62" fill="url(#hatch)"/>
<rect x="386.61" y="241.68" width="0.90" height="78.62" fill="#000"/>
<rect x="386.61" y="241.68" width="3.80" height="1.00" fill="#000"/>
<rect x="389.11" y="241.68" width="1.30" height="78.62" fill="#000"/>
<rect x="406.39" y="289.83" width="3.30" height="30.47" fill="#fff"/>
<rect x="406.39" y="289.83" width="0.90" height="30.47" fill="#000"/>
<rect x="406.39" y="289.83" width="3.30" height="1.00" fill="#000"/>
<rect x="408.39" y="289.83" width="1.30" height="30.47" fill="#000"/>
<rect x="409.69" y="291.52" width="2.80" height="28.78" fill="#000"/>
<rect x="412.49" y="284.69" width="3.80" height="35.61" fill="url(#hatch)"/>
<rect x="412.49" y="284.69" width="0.90" height="35.61" fill="#000"/>
<rect x="412.49" y="284.69" width="3.80" height="1.00" fill="#000"/>
<rect x="414.99" y="284.69" width="1.30" height="35.61" fill="#000"/>
<rect x="419.33" y="311.22" width="3.30" height="9.08" fill="#fff"/>
<rect x="419.33" y="311.22" width="0.90" height="9.08" fill="#000"/>
<rect x="419.33" y="311.22" width="3.30" height="1.00" fill="#000"/>
<rect x="421.33" y="311.22" width="1.30" height="9.08" fill="#000"/>
<rect x="422.63" y="315.19" width="2.80" height="5.11" fill="#000"/>
<rect x="425.43" y="306.49" width="3.80" height="13.81" fill="url(#hatch)"/>
<rect x="425.43" y="306.49" width="0.90" height="13.81" fill="#000"/>
<rect x="425.43" y="306.49" width="3.80" height="1.00" fill="#000"/>
<rect x="427.93" y="306.49" width="1.30" height="13.81" fill="#000"/>
<rect x="432.27" y="301.72" width="3.30" height="18.58" fill="#fff"/>
<rect x="432.27" y="301.72" width="0.90" height="18.58" fill="#000"/>
<rect x="432.27" y="301.72" width="3.30" height="1.00" fill="#000"/>
<rect x="434.27" y="301.72" width="1.30" height="18.58" fill="#000"/>
<rect x="435.57" y="303.12" width="2.80" height="17.18" fill="#000"/>
<rect x="438.37" y="296.20" width="3.80" height="24.10" fill="url(#hatch)"/>
<rect x="438.37" y="296.20" width="0.90" height="24.10" fill="#000"/>
<rect x="438.37" y="296.20" width="3.80" height="1.00" fill="#000"/>
<rect x="440.87" y="296.20" width="1.30" height="24.10" fill="#000"/>
<rect x="445.21" y="292.31" width="3.30" height="27.99" fill="#fff"/>
<rect x="445.21" y="292.31" width="0.90" height="27.99" fill="#000"/>
<rect x="445.21" y="292.31" width="3.30" height="1.00" fill="#000"/>
<rect x="447.21" y="292.31" width="1.30" height="27.99" fill="#000"/>
<rect x="448.51" y="261.15" width="2.80" height="59.15" fill="#000"/>
<rect x="451.31" y="281.04" width="3.80" height="39.26" fill="url(#hatch)"/>
<rect x="451.31" y="281.04" width="0.90" height="39.26" fill="#000"/>
<rect x="451.31" y="281.04" width="3.80" height="1.00" fill="#000"/>
<rect x="453.81" y="281.04" width="1.30" height="39.26" fill="#000"/>
<rect x="458.15" y="285.43" width="3.30" height="34.87" fill="#fff"/>
<rect x="458.15" y="285.43" width="0.90" height="34.87" fill="#000"/>
<rect x="458.15" y="285.43" width="3.30" height="1.00" fill="#000"/>
<rect x="460.15" y="285.43" width="1.30" height="34.87" fill="#000"/>
<rect x="461.45" y="280.29" width="2.80" height="40.01" fill="#000"/>
<rect x="464.25" y="292.92" width="3.80" height="27.38" fill="url(#hatch)"/>
<rect x="464.25" y="292.92" width="0.90" height="27.38" fill="#000"/>
<rect x="464.25" y="292.92" width="3.80" height="1.00" fill="#000"/>
<rect x="466.75" y="292.92" width="1.30" height="27.38" fill="#000"/>
<rect x="471.09" y="287.31" width="3.30" height="32.99" fill="#fff"/>
<rect x="471.09" y="287.31" width="0.90" height="32.99" fill="#000"/>
<rect x="471.09" y="287.31" width="3.30" height="1.00" fill="#000"/>
<rect x="473.09" y="287.31" width="1.30" height="32.99" fill="#000"/>
<rect x="474.39" y="278.42" width="2.80" height="41.88" fill="#000"/>
<rect x="477.19" y="285.90" width="3.80" height="34.40" fill="url(#hatch)"/>
<rect x="477.19" y="285.90" width="0.90" height="34.40" fill="#000"/>
<rect x="477.19" y="285.90" width="3.80" height="1.00" fill="#000"/>
<rect x="479.69" y="285.90" width="1.30" height="34.40" fill="#000"/>
<line x1="302.00" y1="208.30" x2="302.00" y2="321.10" stroke="#000" stroke-width="1.7"/>
<line x1="301.20" y1="320.30" x2="483.70" y2="320.30" stroke="#000" stroke-width="1.6"/>
<line x1="298.80" y1="320.30" x2="302.00" y2="320.30" stroke="#000" stroke-width="1.0"/>
<text x="297.00" y="323.40" font-size="8.7" text-anchor="end" fill="#222">0</text>
<line x1="298.80" y1="306.36" x2="302.00" y2="306.36" stroke="#000" stroke-width="1.0"/>
<text x="297.00" y="309.46" font-size="8.7" text-anchor="end" fill="#222">300</text>
<line x1="298.80" y1="292.43" x2="302.00" y2="292.43" stroke="#000" stroke-width="1.0"/>
<text x="297.00" y="295.53" font-size="8.7" text-anchor="end" fill="#222">600</text>
<line x1="298.80" y1="278.49" x2="302.00" y2="278.49" stroke="#000" stroke-width="1.0"/>
<text x="297.00" y="281.59" font-size="8.7" text-anchor="end" fill="#222">900</text>
<line x1="298.80" y1="264.55" x2="302.00" y2="264.55" stroke="#000" stroke-width="1.0"/>
<text x="297.00" y="267.65" font-size="8.7" text-anchor="end" fill="#222">1,200</text>
<line x1="298.80" y1="250.61" x2="302.00" y2="250.61" stroke="#000" stroke-width="1.0"/>
<text x="297.00" y="253.71" font-size="8.7" text-anchor="end" fill="#222">1,500</text>
<line x1="298.80" y1="236.68" x2="302.00" y2="236.68" stroke="#000" stroke-width="1.0"/>
<text x="297.00" y="239.78" font-size="8.7" text-anchor="end" fill="#222">1,800</text>
<line x1="298.80" y1="222.74" x2="302.00" y2="222.74" stroke="#000" stroke-width="1.0"/>
<text x="297.00" y="225.84" font-size="8.7" text-anchor="end" fill="#222">2,100</text>
<line x1="298.80" y1="208.80" x2="302.00" y2="208.80" stroke="#000" stroke-width="1.0"/>
<text x="297.00" y="211.90" font-size="8.7" text-anchor="end" fill="#222">2,400</text>
<line x1="314.14" y1="320.30" x2="314.14" y2="322.70" stroke="#000" stroke-width="1.0"/>
<line x1="327.08" y1="320.30" x2="327.08" y2="322.70" stroke="#000" stroke-width="1.0"/>
<line x1="340.02" y1="320.30" x2="340.02" y2="322.70" stroke="#000" stroke-width="1.0"/>
<line x1="352.96" y1="320.30" x2="352.96" y2="322.70" stroke="#000" stroke-width="1.0"/>
<line x1="365.90" y1="320.30" x2="365.90" y2="322.70" stroke="#000" stroke-width="1.0"/>
<line x1="378.84" y1="320.30" x2="378.84" y2="322.70" stroke="#000" stroke-width="1.0"/>
<line x1="391.78" y1="320.30" x2="391.78" y2="322.70" stroke="#000" stroke-width="1.0"/>
<line x1="404.72" y1="320.30" x2="404.72" y2="322.70" stroke="#000" stroke-width="1.0"/>
<line x1="417.66" y1="320.30" x2="417.66" y2="322.70" stroke="#000" stroke-width="1.0"/>
<line x1="430.60" y1="320.30" x2="430.60" y2="322.70" stroke="#000" stroke-width="1.0"/>
<line x1="443.54" y1="320.30" x2="443.54" y2="322.70" stroke="#000" stroke-width="1.0"/>
<line x1="456.48" y1="320.30" x2="456.48" y2="322.70" stroke="#000" stroke-width="1.0"/>
<line x1="469.42" y1="320.30" x2="469.42" y2="322.70" stroke="#000" stroke-width="1.0"/>
<line x1="482.36" y1="320.30" x2="482.36" y2="322.70" stroke="#000" stroke-width="1.0"/>
<text x="307.67" y="331.00" font-size="6.8" text-anchor="middle" fill="#222">0</text>
<text x="320.61" y="331.00" font-size="6.8" text-anchor="middle" fill="#222">8</text>
<text x="333.55" y="331.00" font-size="6.8" text-anchor="middle" fill="#222">12</text>
<text x="346.49" y="331.00" font-size="6.8" text-anchor="middle" fill="#222">18</text>
<text x="359.43" y="331.00" font-size="6.8" text-anchor="middle" fill="#222">24</text>
<text x="372.37" y="331.00" font-size="6.8" text-anchor="middle" fill="#222">38</text>
<text x="385.31" y="331.00" font-size="6.8" text-anchor="middle" fill="#222">55</text>
<text x="398.25" y="331.00" font-size="6.8" text-anchor="middle" fill="#222">0</text>
<text x="411.19" y="331.00" font-size="6.8" text-anchor="middle" fill="#222">8</text>
<text x="424.13" y="331.00" font-size="6.8" text-anchor="middle" fill="#222">12</text>
<text x="437.07" y="331.00" font-size="6.8" text-anchor="middle" fill="#222">18</text>
<text x="450.01" y="331.00" font-size="6.8" text-anchor="middle" fill="#222">24</text>
<text x="462.95" y="331.00" font-size="6.8" text-anchor="middle" fill="#222">38</text>
<text x="475.89" y="331.00" font-size="6.8" text-anchor="middle" fill="#222">55</text>
<line x1="392.40" y1="320.80" x2="392.40" y2="349.70" stroke="#555" stroke-width="1.1"/>
<rect x="439.85" y="215.75" width="5.00" height="4.20" fill="#fff" stroke="#222" stroke-width="1.1"/>
<text x="448.50" y="220.70" font-size="9.6" fill="#111">RM4a</text>
<rect x="439.30" y="226.10" width="6.10" height="5.50" fill="#000"/>
<text x="448.50" y="231.60" font-size="9.6" fill="#111">RM4b</text>
<rect x="439.70" y="237.20" width="5.30" height="4.50" fill="url(#hatch)" stroke="#111" stroke-width="0.8"/>
<text x="448.50" y="242.40" font-size="9.6" fill="#111">RM4c</text>
<text transform="translate(273.00,253.50) rotate(-90) scale(1.108,1)" text-anchor="middle" font-size="10.0" font-weight="bold" fill="#111">pCTL/10<tspan font-size="70%" dy="-3">6</tspan><tspan dy="3"> </tspan>PBMC</text>
<text x="262.20" y="198.10" font-size="16.5" font-weight="bold" fill="#000">D</text>
<text x="371.00" y="205.00" font-size="10.3" font-weight="bold" fill="#111">group 4</text>
<text x="307.30" y="346.10" font-size="10.6" font-weight="bold" fill="#111">SIVgag/pol</text>
<text x="423.40" y="345.50" font-size="10.6" font-weight="bold" fill="#111">SIVenv</text>
<text x="484.00" y="341.80" font-size="9.3" font-weight="bold" fill="#111">week pi</text>
<line x1="54.60" y1="389.70" x2="226.20" y2="389.70" stroke="#444" stroke-width="1.0"/>
<line x1="226.20" y1="389.70" x2="226.20" y2="492.40" stroke="#444" stroke-width="1.0"/>
<rect x="58.30" y="491.23" width="5.00" height="1.17" fill="#fff"/>
<rect x="58.30" y="491.23" width="0.90" height="1.17" fill="#000"/>
<rect x="58.30" y="491.23" width="5.00" height="1.00" fill="#000"/>
<rect x="62.00" y="491.23" width="1.30" height="1.17" fill="#000"/>
<rect x="63.30" y="490.07" width="7.60" height="2.33" fill="#000"/>
<rect x="77.30" y="428.91" width="5.00" height="63.49" fill="#fff"/>
<rect x="77.30" y="428.91" width="0.90" height="63.49" fill="#000"/>
<rect x="77.30" y="428.91" width="5.00" height="1.00" fill="#000"/>
<rect x="81.00" y="428.91" width="1.30" height="63.49" fill="#000"/>
<rect x="82.30" y="411.60" width="7.60" height="80.80" fill="#000"/>
<rect x="96.30" y="481.31" width="5.00" height="11.09" fill="#fff"/>
<rect x="96.30" y="481.31" width="0.90" height="11.09" fill="#000"/>
<rect x="96.30" y="481.31" width="5.00" height="1.00" fill="#000"/>
<rect x="100.00" y="481.31" width="1.30" height="11.09" fill="#000"/>
<rect x="101.30" y="483.12" width="7.60" height="9.28" fill="#000"/>
<rect x="115.30" y="486.01" width="5.00" height="6.39" fill="#fff"/>
<rect x="115.30" y="486.01" width="0.90" height="6.39" fill="#000"/>
<rect x="115.30" y="486.01" width="5.00" height="1.00" fill="#000"/>
<rect x="119.00" y="486.01" width="1.30" height="6.39" fill="#000"/>
<rect x="120.30" y="486.27" width="7.60" height="6.13" fill="#000"/>
<rect x="134.30" y="490.26" width="5.00" height="2.14" fill="#fff"/>
<rect x="134.30" y="490.26" width="0.90" height="2.14" fill="#000"/>
<rect x="134.30" y="490.26" width="5.00" height="1.00" fill="#000"/>
<rect x="138.00" y="490.26" width="1.30" height="2.14" fill="#000"/>
<rect x="139.30" y="487.75" width="7.60" height="4.65" fill="#000"/>
<rect x="153.30" y="490.07" width="5.00" height="2.33" fill="#fff"/>
<rect x="153.30" y="490.07" width="0.90" height="2.33" fill="#000"/>
<rect x="153.30" y="490.07" width="5.00" height="1.00" fill="#000"/>
<rect x="157.00" y="490.07" width="1.30" height="2.33" fill="#000"/>
<rect x="158.30" y="490.84" width="7.60" height="1.56" fill="#000"/>
<rect x="172.30" y="491.03" width="5.00" height="1.37" fill="#fff"/>
<rect x="172.30" y="491.03" width="0.90" height="1.37" fill="#000"/>
<rect x="172.30" y="491.03" width="5.00" height="1.00" fill="#000"/>
<rect x="176.00" y="491.03" width="1.30" height="1.37" fill="#000"/>
<rect x="177.30" y="491.23" width="7.60" height="1.17" fill="#000"/>
<rect x="191.30" y="490.84" width="5.00" height="1.56" fill="#fff"/>
<rect x="191.30" y="490.84" width="0.90" height="1.56" fill="#000"/>
<rect x="191.30" y="490.84" width="5.00" height="1.00" fill="#000"/>
<rect x="195.00" y="490.84" width="1.30" height="1.56" fill="#000"/>
<rect x="196.30" y="490.39" width="7.60" height="2.01" fill="#000"/>
<rect x="210.30" y="490.84" width="5.00" height="1.56" fill="#fff"/>
<rect x="210.30" y="490.84" width="0.90" height="1.56" fill="#000"/>
<rect x="210.30" y="490.84" width="5.00" height="1.00" fill="#000"/>
<rect x="214.00" y="490.84" width="1.30" height="1.56" fill="#000"/>
<rect x="215.30" y="491.10" width="7.60" height="1.30" fill="#000"/>
<line x1="54.60" y1="389.20" x2="54.60" y2="493.20" stroke="#000" stroke-width="1.7"/>
<line x1="53.80" y1="492.40" x2="226.70" y2="492.40" stroke="#000" stroke-width="1.6"/>
<line x1="51.40" y1="492.40" x2="54.60" y2="492.40" stroke="#000" stroke-width="1.0"/>
<text x="0.00" y="0.00" font-size="9.5" text-anchor="end" fill="#222" transform="translate(49.30,495.00) scale(1.253,1)">0</text>
<line x1="51.40" y1="479.56" x2="54.60" y2="479.56" stroke="#000" stroke-width="1.0"/>
<text x="0.00" y="0.00" font-size="9.5" text-anchor="end" fill="#222" transform="translate(49.30,482.16) scale(1.253,1)">200</text>
<line x1="51.40" y1="466.72" x2="54.60" y2="466.72" stroke="#000" stroke-width="1.0"/>
<text x="0.00" y="0.00" font-size="9.5" text-anchor="end" fill="#222" transform="translate(49.30,469.32) scale(1.253,1)">400</text>
<line x1="51.40" y1="453.89" x2="54.60" y2="453.89" stroke="#000" stroke-width="1.0"/>
<text x="0.00" y="0.00" font-size="9.5" text-anchor="end" fill="#222" transform="translate(49.30,456.49) scale(1.253,1)">600</text>
<line x1="51.40" y1="441.05" x2="54.60" y2="441.05" stroke="#000" stroke-width="1.0"/>
<text x="0.00" y="0.00" font-size="9.5" text-anchor="end" fill="#222" transform="translate(49.30,443.65) scale(1.253,1)">800</text>
<line x1="51.40" y1="428.21" x2="54.60" y2="428.21" stroke="#000" stroke-width="1.0"/>
<text x="0.00" y="0.00" font-size="9.5" text-anchor="end" fill="#222" transform="translate(49.30,430.81) scale(1.253,1)">1,000</text>
<line x1="51.40" y1="415.38" x2="54.60" y2="415.38" stroke="#000" stroke-width="1.0"/>
<text x="0.00" y="0.00" font-size="9.5" text-anchor="end" fill="#222" transform="translate(49.30,417.98) scale(1.253,1)">1,200</text>
<line x1="51.40" y1="402.54" x2="54.60" y2="402.54" stroke="#000" stroke-width="1.0"/>
<text x="0.00" y="0.00" font-size="9.5" text-anchor="end" fill="#222" transform="translate(49.30,405.14) scale(1.253,1)">1,400</text>
<line x1="51.40" y1="389.70" x2="54.60" y2="389.70" stroke="#000" stroke-width="1.0"/>
<text x="0.00" y="0.00" font-size="9.5" text-anchor="end" fill="#222" transform="translate(49.30,392.30) scale(1.253,1)">1,600</text>
<line x1="72.90" y1="492.40" x2="72.90" y2="494.80" stroke="#000" stroke-width="1.0"/>
<line x1="91.90" y1="492.40" x2="91.90" y2="494.80" stroke="#000" stroke-width="1.0"/>
<line x1="110.90" y1="492.40" x2="110.90" y2="494.80" stroke="#000" stroke-width="1.0"/>
<line x1="129.90" y1="492.40" x2="129.90" y2="494.80" stroke="#000" stroke-width="1.0"/>
<line x1="148.90" y1="492.40" x2="148.90" y2="494.80" stroke="#000" stroke-width="1.0"/>
<line x1="167.90" y1="492.40" x2="167.90" y2="494.80" stroke="#000" stroke-width="1.0"/>
<line x1="186.90" y1="492.40" x2="186.90" y2="494.80" stroke="#000" stroke-width="1.0"/>
<line x1="205.90" y1="492.40" x2="205.90" y2="494.80" stroke="#000" stroke-width="1.0"/>
<line x1="224.90" y1="492.40" x2="224.90" y2="494.80" stroke="#000" stroke-width="1.0"/>
<text x="0.00" y="0.00" font-size="6.5" text-anchor="middle" fill="#222" transform="translate(63.40,502.20) scale(1.360,1)">pre</text>
<text x="0.00" y="0.00" font-size="6.5" text-anchor="middle" fill="#222" transform="translate(82.40,502.20) scale(1.360,1)">0</text>
<text x="0.00" y="0.00" font-size="6.5" text-anchor="middle" fill="#222" transform="translate(101.40,502.20) scale(1.360,1)">6</text>
<text x="0.00" y="0.00" font-size="6.5" text-anchor="middle" fill="#222" transform="translate(120.40,502.20) scale(1.360,1)">12</text>
<text x="0.00" y="0.00" font-size="6.5" text-anchor="middle" fill="#222" transform="translate(139.40,502.20) scale(1.360,1)">17</text>
<text x="0.00" y="0.00" font-size="6.5" text-anchor="middle" fill="#222" transform="translate(158.40,502.20) scale(1.360,1)">24</text>
<text x="0.00" y="0.00" font-size="6.5" text-anchor="middle" fill="#222" transform="translate(177.40,502.20) scale(1.360,1)">38</text>
<text x="0.00" y="0.00" font-size="6.5" text-anchor="middle" fill="#222" transform="translate(196.40,502.20) scale(1.360,1)">48</text>
<text x="0.00" y="0.00" font-size="6.5" text-anchor="middle" fill="#222" transform="translate(215.40,502.20) scale(1.360,1)">60</text>
<rect x="169.95" y="396.85" width="7.00" height="4.70" fill="#fff" stroke="#222" stroke-width="1.1"/>
<text x="0.00" y="0.00" font-size="8.9" fill="#111" transform="translate(181.80,402.10) scale(1.380,1)">RM1a</text>
<rect x="169.40" y="407.10" width="8.10" height="5.40" fill="#000"/>
<text x="0.00" y="0.00" font-size="8.9" fill="#111" transform="translate(181.80,412.50) scale(1.380,1)">RM1b</text>
<text transform="translate(8.90,435.30) rotate(-90) scale(1.072,1)" text-anchor="middle" font-size="10.0" font-weight="bold" fill="#111">Flu pCTL/10<tspan font-size="70%" dy="-3">6</tspan><tspan dy="3"> </tspan>PBMC</text>
<text x="0.30" y="376.30" font-size="16.5" font-weight="bold" fill="#000">E</text>
<text x="123.50" y="387.00" font-size="10.3" font-weight="bold" fill="#111">group 1</text>
<text x="215.40" y="512.30" font-size="10.1" font-weight="bold" fill="#111">weeks pi</text>
<line x1="57.60" y1="540.20" x2="228.30" y2="540.20" stroke="#444" stroke-width="1.0"/>
<line x1="228.30" y1="540.20" x2="228.30" y2="640.50" stroke="#444" stroke-width="1.0"/>
<rect x="79.79" y="562.70" width="4.20" height="77.80" fill="#fff"/>
<rect x="79.79" y="562.70" width="0.90" height="77.80" fill="#000"/>
<rect x="79.79" y="562.70" width="4.20" height="1.00" fill="#000"/>
<rect x="82.69" y="562.70" width="1.30" height="77.80" fill="#000"/>
<rect x="83.99" y="557.71" width="5.45" height="82.79" fill="#000"/>
<rect x="89.44" y="596.45" width="3.80" height="44.05" fill="url(#hatch)"/>
<rect x="89.44" y="596.45" width="0.90" height="44.05" fill="#000"/>
<rect x="89.44" y="596.45" width="3.80" height="1.00" fill="#000"/>
<rect x="91.94" y="596.45" width="1.30" height="44.05" fill="#000"/>
<rect x="98.55" y="628.57" width="4.20" height="11.93" fill="#fff"/>
<rect x="98.55" y="628.57" width="0.90" height="11.93" fill="#000"/>
<rect x="98.55" y="628.57" width="4.20" height="1.00" fill="#000"/>
<rect x="101.45" y="628.57" width="1.30" height="11.93" fill="#000"/>
<rect x="102.75" y="630.32" width="5.45" height="10.18" fill="#000"/>
<rect x="108.20" y="635.87" width="3.80" height="4.63" fill="url(#hatch)"/>
<rect x="108.20" y="635.87" width="0.90" height="4.63" fill="#000"/>
<rect x="108.20" y="635.87" width="3.80" height="1.00" fill="#000"/>
<rect x="110.70" y="635.87" width="1.30" height="4.63" fill="#000"/>
<rect x="117.31" y="633.62" width="4.20" height="6.88" fill="#fff"/>
<rect x="117.31" y="633.62" width="0.90" height="6.88" fill="#000"/>
<rect x="117.31" y="633.62" width="4.20" height="1.00" fill="#000"/>
<rect x="120.21" y="633.62" width="1.30" height="6.88" fill="#000"/>
<rect x="121.51" y="633.00" width="5.45" height="7.50" fill="#000"/>
<rect x="126.96" y="636.31" width="3.80" height="4.19" fill="url(#hatch)"/>
<rect x="126.96" y="636.31" width="0.90" height="4.19" fill="#000"/>
<rect x="126.96" y="636.31" width="3.80" height="1.00" fill="#000"/>
<rect x="129.46" y="636.31" width="1.30" height="4.19" fill="#000"/>
<rect x="136.07" y="638.86" width="4.20" height="1.64" fill="#fff"/>
<rect x="136.07" y="638.86" width="0.90" height="1.64" fill="#000"/>
<rect x="136.07" y="638.86" width="4.20" height="1.00" fill="#000"/>
<rect x="138.97" y="638.86" width="1.30" height="1.64" fill="#000"/>
<rect x="140.27" y="635.31" width="5.45" height="5.19" fill="#000"/>
<rect x="145.72" y="638.24" width="3.80" height="2.26" fill="url(#hatch)"/>
<rect x="145.72" y="638.24" width="0.90" height="2.26" fill="#000"/>
<rect x="145.72" y="638.24" width="3.80" height="1.00" fill="#000"/>
<rect x="148.22" y="638.24" width="1.30" height="2.26" fill="#000"/>
<rect x="154.83" y="630.69" width="4.20" height="9.81" fill="#fff"/>
<rect x="154.83" y="630.69" width="0.90" height="9.81" fill="#000"/>
<rect x="154.83" y="630.69" width="4.20" height="1.00" fill="#000"/>
<rect x="157.73" y="630.69" width="1.30" height="9.81" fill="#000"/>
<rect x="159.03" y="627.57" width="5.45" height="12.93" fill="#000"/>
<rect x="164.48" y="633.38" width="3.80" height="7.12" fill="url(#hatch)"/>
<rect x="164.48" y="633.38" width="0.90" height="7.12" fill="#000"/>
<rect x="164.48" y="633.38" width="3.80" height="1.00" fill="#000"/>
<rect x="166.98" y="633.38" width="1.30" height="7.12" fill="#000"/>
<rect x="173.59" y="635.31" width="4.20" height="5.19" fill="#fff"/>
<rect x="173.59" y="635.31" width="0.90" height="5.19" fill="#000"/>
<rect x="173.59" y="635.31" width="4.20" height="1.00" fill="#000"/>
<rect x="176.49" y="635.31" width="1.30" height="5.19" fill="#000"/>
<rect x="177.79" y="632.63" width="5.45" height="7.87" fill="#000"/>
<rect x="183.24" y="638.43" width="3.80" height="2.07" fill="url(#hatch)"/>
<rect x="183.24" y="638.43" width="0.90" height="2.07" fill="#000"/>
<rect x="183.24" y="638.43" width="3.80" height="1.00" fill="#000"/>
<rect x="185.74" y="638.43" width="1.30" height="2.07" fill="#000"/>
<rect x="192.35" y="637.37" width="4.20" height="3.13" fill="#fff"/>
<rect x="192.35" y="637.37" width="0.90" height="3.13" fill="#000"/>
<rect x="192.35" y="637.37" width="4.20" height="1.00" fill="#000"/>
<rect x="195.25" y="637.37" width="1.30" height="3.13" fill="#000"/>
<rect x="196.55" y="634.31" width="5.45" height="6.19" fill="#000"/>
<rect x="202.00" y="638.80" width="3.80" height="1.70" fill="url(#hatch)"/>
<rect x="202.00" y="638.80" width="0.90" height="1.70" fill="#000"/>
<rect x="202.00" y="638.80" width="3.80" height="1.00" fill="#000"/>
<rect x="204.50" y="638.80" width="1.30" height="1.70" fill="#000"/>
<rect x="211.11" y="635.31" width="4.20" height="5.19" fill="#fff"/>
<rect x="211.11" y="635.31" width="0.90" height="5.19" fill="#000"/>
<rect x="211.11" y="635.31" width="4.20" height="1.00" fill="#000"/>
<rect x="214.01" y="635.31" width="1.30" height="5.19" fill="#000"/>
<rect x="215.31" y="632.31" width="5.45" height="8.19" fill="#000"/>
<rect x="220.76" y="638.43" width="3.80" height="2.07" fill="url(#hatch)"/>
<rect x="220.76" y="638.43" width="0.90" height="2.07" fill="#000"/>
<rect x="220.76" y="638.43" width="3.80" height="1.00" fill="#000"/>
<rect x="223.26" y="638.43" width="1.30" height="2.07" fill="#000"/>
<line x1="57.60" y1="539.70" x2="57.60" y2="641.30" stroke="#000" stroke-width="1.7"/>
<line x1="56.80" y1="640.50" x2="228.80" y2="640.50" stroke="#000" stroke-width="1.6"/>
<line x1="54.40" y1="640.50" x2="57.60" y2="640.50" stroke="#000" stroke-width="1.0"/>
<text x="0.00" y="0.00" font-size="9.5" text-anchor="end" fill="#222" transform="translate(51.80,643.40) scale(1.370,1)">0</text>
<line x1="54.40" y1="627.96" x2="57.60" y2="627.96" stroke="#000" stroke-width="1.0"/>
<text x="0.00" y="0.00" font-size="9.5" text-anchor="end" fill="#222" transform="translate(51.80,630.86) scale(1.370,1)">200</text>
<line x1="54.40" y1="615.43" x2="57.60" y2="615.43" stroke="#000" stroke-width="1.0"/>
<text x="0.00" y="0.00" font-size="9.5" text-anchor="end" fill="#222" transform="translate(51.80,618.33) scale(1.370,1)">400</text>
<line x1="54.40" y1="602.89" x2="57.60" y2="602.89" stroke="#000" stroke-width="1.0"/>
<text x="0.00" y="0.00" font-size="9.5" text-anchor="end" fill="#222" transform="translate(51.80,605.79) scale(1.370,1)">600</text>
<line x1="54.40" y1="590.35" x2="57.60" y2="590.35" stroke="#000" stroke-width="1.0"/>
<text x="0.00" y="0.00" font-size="9.5" text-anchor="end" fill="#222" transform="translate(51.80,593.25) scale(1.370,1)">800</text>
<line x1="54.40" y1="577.81" x2="57.60" y2="577.81" stroke="#000" stroke-width="1.0"/>
<text x="0.00" y="0.00" font-size="9.5" text-anchor="end" fill="#222" transform="translate(51.80,580.71) scale(1.370,1)">1,000</text>
<line x1="54.40" y1="565.28" x2="57.60" y2="565.28" stroke="#000" stroke-width="1.0"/>
<text x="0.00" y="0.00" font-size="9.5" text-anchor="end" fill="#222" transform="translate(51.80,568.18) scale(1.370,1)">1,200</text>
<line x1="54.40" y1="552.74" x2="57.60" y2="552.74" stroke="#000" stroke-width="1.0"/>
<text x="0.00" y="0.00" font-size="9.5" text-anchor="end" fill="#222" transform="translate(51.80,555.64) scale(1.370,1)">1,400</text>
<line x1="54.40" y1="540.20" x2="57.60" y2="540.20" stroke="#000" stroke-width="1.0"/>
<text x="0.00" y="0.00" font-size="9.5" text-anchor="end" fill="#222" transform="translate(51.80,543.10) scale(1.370,1)">1,600</text>
<line x1="77.06" y1="640.50" x2="77.06" y2="642.90" stroke="#000" stroke-width="1.0"/>
<line x1="95.82" y1="640.50" x2="95.82" y2="642.90" stroke="#000" stroke-width="1.0"/>
<line x1="114.58" y1="640.50" x2="114.58" y2="642.90" stroke="#000" stroke-width="1.0"/>
<line x1="133.34" y1="640.50" x2="133.34" y2="642.90" stroke="#000" stroke-width="1.0"/>
<line x1="152.10" y1="640.50" x2="152.10" y2="642.90" stroke="#000" stroke-width="1.0"/>
<line x1="170.86" y1="640.50" x2="170.86" y2="642.90" stroke="#000" stroke-width="1.0"/>
<line x1="189.62" y1="640.50" x2="189.62" y2="642.90" stroke="#000" stroke-width="1.0"/>
<line x1="208.38" y1="640.50" x2="208.38" y2="642.90" stroke="#000" stroke-width="1.0"/>
<line x1="227.14" y1="640.50" x2="227.14" y2="642.90" stroke="#000" stroke-width="1.0"/>
<text x="0.00" y="0.00" font-size="6.5" text-anchor="middle" fill="#222" transform="translate(67.68,650.60) scale(1.360,1)">pre</text>
<text x="0.00" y="0.00" font-size="6.5" text-anchor="middle" fill="#222" transform="translate(86.44,650.60) scale(1.360,1)">0</text>
<text x="0.00" y="0.00" font-size="6.5" text-anchor="middle" fill="#222" transform="translate(105.20,650.60) scale(1.360,1)">6</text>
<text x="0.00" y="0.00" font-size="6.5" text-anchor="middle" fill="#222" transform="translate(123.96,650.60) scale(1.360,1)">12</text>
<text x="0.00" y="0.00" font-size="6.5" text-anchor="middle" fill="#222" transform="translate(142.72,650.60) scale(1.360,1)">17</text>
<text x="0.00" y="0.00" font-size="6.5" text-anchor="middle" fill="#222" transform="translate(161.48,650.60) scale(1.360,1)">24</text>
<text x="0.00" y="0.00" font-size="6.5" text-anchor="middle" fill="#222" transform="translate(180.24,650.60) scale(1.360,1)">38</text>
<text x="0.00" y="0.00" font-size="6.5" text-anchor="middle" fill="#222" transform="translate(199.00,650.60) scale(1.360,1)">48</text>
<text x="0.00" y="0.00" font-size="6.5" text-anchor="middle" fill="#222" transform="translate(217.76,650.60) scale(1.360,1)">60</text>
<rect x="171.85" y="547.75" width="7.40" height="4.20" fill="#fff" stroke="#222" stroke-width="1.1"/>
<text x="0.00" y="0.00" font-size="8.9" fill="#111" transform="translate(184.30,552.70) scale(1.400,1)">RM3a</text>
<rect x="171.30" y="558.50" width="8.50" height="5.20" fill="#000"/>
<text x="0.00" y="0.00" font-size="8.9" fill="#111" transform="translate(184.30,564.20) scale(1.400,1)">RM3b</text>
<rect x="171.70" y="569.80" width="7.70" height="4.40" fill="url(#hatch)" stroke="#111" stroke-width="0.8"/>
<text x="0.00" y="0.00" font-size="8.9" fill="#111" transform="translate(184.30,575.20) scale(1.400,1)">RM3c</text>
<text transform="translate(8.80,585.40) rotate(-90) scale(1.063,1)" text-anchor="middle" font-size="10.0" font-weight="bold" fill="#111">Flu pCTL/10<tspan font-size="70%" dy="-3">6</tspan><tspan dy="3"> </tspan>PBMC</text>
<text x="1.50" y="526.30" font-size="16.5" font-weight="bold" fill="#000">F</text>
<text x="122.30" y="537.00" font-size="10.3" font-weight="bold" fill="#111">group 3</text>
<text x="219.80" y="660.40" font-size="10.1" font-weight="bold" fill="#111">weeks pi</text>
<text x="93.80" y="665.80" font-size="10.7" font-weight="bold" fill="#111">PMPA</text>
<text x="126.40" y="671.80" font-size="10.4" font-weight="bold" fill="#111">transfusions</text>
<line x1="125.30" y1="653.50" x2="136.40" y2="653.50" stroke="#000" stroke-width="1.2"/>
<circle cx="125.30" cy="653.50" r="2.5" fill="#000"/>
<circle cx="136.40" cy="653.50" r="2.5" fill="#000"/>
<line x1="131.70" y1="658.20" x2="150.30" y2="658.20" stroke="#000" stroke-width="1.2"/>
<circle cx="131.70" cy="658.20" r="2.5" fill="#000"/>
<circle cx="150.30" cy="658.20" r="2.5" fill="#000"/>
<line x1="323.00" y1="537.30" x2="487.60" y2="537.30" stroke="#444" stroke-width="1.0"/>
<line x1="487.60" y1="537.30" x2="487.60" y2="638.90" stroke="#444" stroke-width="1.0"/>
<rect x="325.47" y="638.18" width="4.60" height="0.72" fill="#fff"/>
<rect x="325.47" y="638.18" width="0.90" height="0.72" fill="#000"/>
<rect x="325.47" y="638.18" width="4.60" height="0.72" fill="#000"/>
<rect x="328.77" y="638.18" width="1.30" height="0.72" fill="#000"/>
<rect x="330.07" y="636.97" width="4.40" height="1.93" fill="#000"/>
<rect x="334.47" y="638.18" width="4.60" height="0.72" fill="url(#hatch)"/>
<rect x="334.47" y="638.18" width="0.90" height="0.72" fill="#000"/>
<rect x="334.47" y="638.18" width="4.60" height="0.72" fill="#000"/>
<rect x="337.77" y="638.18" width="1.30" height="0.72" fill="#000"/>
<rect x="343.72" y="546.09" width="4.60" height="92.81" fill="#fff"/>
<rect x="343.72" y="546.09" width="0.90" height="92.81" fill="#000"/>
<rect x="343.72" y="546.09" width="4.60" height="1.00" fill="#000"/>
<rect x="347.02" y="546.09" width="1.30" height="92.81" fill="#000"/>
<rect x="348.32" y="583.60" width="4.40" height="55.30" fill="#000"/>
<rect x="352.72" y="580.99" width="4.60" height="57.91" fill="url(#hatch)"/>
<rect x="352.72" y="580.99" width="0.90" height="57.91" fill="#000"/>
<rect x="352.72" y="580.99" width="4.60" height="1.00" fill="#000"/>
<rect x="356.02" y="580.99" width="1.30" height="57.91" fill="#000"/>
<rect x="361.97" y="627.67" width="4.60" height="11.23" fill="#fff"/>
<rect x="361.97" y="627.67" width="0.90" height="11.23" fill="#000"/>
<rect x="361.97" y="627.67" width="4.60" height="1.00" fill="#000"/>
<rect x="365.27" y="627.67" width="1.30" height="11.23" fill="#000"/>
<rect x="366.57" y="632.90" width="4.40" height="6.00" fill="#000"/>
<rect x="370.97" y="631.69" width="4.60" height="7.21" fill="url(#hatch)"/>
<rect x="370.97" y="631.69" width="0.90" height="7.21" fill="#000"/>
<rect x="370.97" y="631.69" width="4.60" height="1.00" fill="#000"/>
<rect x="374.27" y="631.69" width="1.30" height="7.21" fill="#000"/>
<rect x="380.22" y="633.40" width="4.60" height="5.50" fill="#fff"/>
<rect x="380.22" y="633.40" width="0.90" height="5.50" fill="#000"/>
<rect x="380.22" y="633.40" width="4.60" height="1.00" fill="#000"/>
<rect x="383.52" y="633.40" width="1.30" height="5.50" fill="#000"/>
<rect x="384.82" y="633.40" width="4.40" height="5.50" fill="#000"/>
<rect x="389.22" y="635.95" width="4.60" height="2.95" fill="url(#hatch)"/>
<rect x="389.22" y="635.95" width="0.90" height="2.95" fill="#000"/>
<rect x="389.22" y="635.95" width="4.60" height="1.00" fill="#000"/>
<rect x="392.52" y="635.95" width="1.30" height="2.95" fill="#000"/>
<rect x="398.47" y="635.12" width="4.60" height="3.78" fill="#fff"/>
<rect x="398.47" y="635.12" width="0.90" height="3.78" fill="#000"/>
<rect x="398.47" y="635.12" width="4.60" height="1.00" fill="#000"/>
<rect x="401.77" y="635.12" width="1.30" height="3.78" fill="#000"/>
<rect x="403.07" y="636.40" width="4.40" height="2.50" fill="#000"/>
<rect x="407.47" y="636.72" width="4.60" height="2.18" fill="url(#hatch)"/>
<rect x="407.47" y="636.72" width="0.90" height="2.18" fill="#000"/>
<rect x="407.47" y="636.72" width="4.60" height="1.00" fill="#000"/>
<rect x="410.77" y="636.72" width="1.30" height="2.18" fill="#000"/>
<rect x="416.72" y="576.79" width="4.60" height="62.11" fill="#fff"/>
<rect x="416.72" y="576.79" width="0.90" height="62.11" fill="#000"/>
<rect x="416.72" y="576.79" width="4.60" height="1.00" fill="#000"/>
<rect x="420.02" y="576.79" width="1.30" height="62.11" fill="#000"/>
<rect x="421.32" y="601.69" width="4.40" height="37.21" fill="#000"/>
<rect x="425.72" y="592.58" width="4.60" height="46.32" fill="url(#hatch)"/>
<rect x="425.72" y="592.58" width="0.90" height="46.32" fill="#000"/>
<rect x="425.72" y="592.58" width="4.60" height="1.00" fill="#000"/>
<rect x="429.02" y="592.58" width="1.30" height="46.32" fill="#000"/>
<rect x="434.97" y="605.32" width="4.60" height="33.58" fill="#fff"/>
<rect x="434.97" y="605.32" width="0.90" height="33.58" fill="#000"/>
<rect x="434.97" y="605.32" width="4.60" height="1.00" fill="#000"/>
<rect x="438.27" y="605.32" width="1.30" height="33.58" fill="#000"/>
<rect x="439.57" y="593.22" width="4.40" height="45.68" fill="#000"/>
<rect x="443.97" y="616.59" width="4.60" height="22.31" fill="url(#hatch)"/>
<rect x="443.97" y="616.59" width="0.90" height="22.31" fill="#000"/>
<rect x="443.97" y="616.59" width="4.60" height="1.00" fill="#000"/>
<rect x="447.27" y="616.59" width="1.30" height="22.31" fill="#000"/>
<rect x="453.22" y="614.30" width="4.60" height="24.60" fill="#fff"/>
<rect x="453.22" y="614.30" width="0.90" height="24.60" fill="#000"/>
<rect x="453.22" y="614.30" width="4.60" height="1.00" fill="#000"/>
<rect x="456.52" y="614.30" width="1.30" height="24.60" fill="#000"/>
<rect x="457.82" y="618.82" width="4.40" height="20.08" fill="#000"/>
<rect x="462.22" y="619.33" width="4.60" height="19.57" fill="url(#hatch)"/>
<rect x="462.22" y="619.33" width="0.90" height="19.57" fill="#000"/>
<rect x="462.22" y="619.33" width="4.60" height="1.00" fill="#000"/>
<rect x="465.52" y="619.33" width="1.30" height="19.57" fill="#000"/>
<rect x="471.47" y="619.33" width="4.60" height="19.57" fill="#fff"/>
<rect x="471.47" y="619.33" width="0.90" height="19.57" fill="#000"/>
<rect x="471.47" y="619.33" width="4.60" height="1.00" fill="#000"/>
<rect x="474.77" y="619.33" width="1.30" height="19.57" fill="#000"/>
<rect x="476.07" y="616.08" width="4.40" height="22.82" fill="#000"/>
<rect x="480.47" y="616.97" width="4.60" height="21.93" fill="url(#hatch)"/>
<rect x="480.47" y="616.97" width="0.90" height="21.93" fill="#000"/>
<rect x="480.47" y="616.97" width="4.60" height="1.00" fill="#000"/>
<rect x="483.77" y="616.97" width="1.30" height="21.93" fill="#000"/>
<line x1="323.00" y1="536.80" x2="323.00" y2="639.70" stroke="#000" stroke-width="1.7"/>
<line x1="322.20" y1="638.90" x2="488.10" y2="638.90" stroke="#000" stroke-width="1.6"/>
<line x1="319.80" y1="638.90" x2="323.00" y2="638.90" stroke="#000" stroke-width="1.0"/>
<text x="0.00" y="0.00" font-size="9.5" text-anchor="end" fill="#222" transform="translate(317.60,641.80) scale(1.353,1)">0</text>
<line x1="319.80" y1="626.20" x2="323.00" y2="626.20" stroke="#000" stroke-width="1.0"/>
<text x="0.00" y="0.00" font-size="9.5" text-anchor="end" fill="#222" transform="translate(317.60,629.10) scale(1.353,1)">200</text>
<line x1="319.80" y1="613.50" x2="323.00" y2="613.50" stroke="#000" stroke-width="1.0"/>
<text x="0.00" y="0.00" font-size="9.5" text-anchor="end" fill="#222" transform="translate(317.60,616.40) scale(1.353,1)">400</text>
<line x1="319.80" y1="600.80" x2="323.00" y2="600.80" stroke="#000" stroke-width="1.0"/>
<text x="0.00" y="0.00" font-size="9.5" text-anchor="end" fill="#222" transform="translate(317.60,603.70) scale(1.353,1)">600</text>
<line x1="319.80" y1="588.10" x2="323.00" y2="588.10" stroke="#000" stroke-width="1.0"/>
<text x="0.00" y="0.00" font-size="9.5" text-anchor="end" fill="#222" transform="translate(317.60,591.00) scale(1.353,1)">800</text>
<line x1="319.80" y1="575.40" x2="323.00" y2="575.40" stroke="#000" stroke-width="1.0"/>
<text x="0.00" y="0.00" font-size="9.5" text-anchor="end" fill="#222" transform="translate(317.60,578.30) scale(1.353,1)">1,000</text>
<line x1="319.80" y1="562.70" x2="323.00" y2="562.70" stroke="#000" stroke-width="1.0"/>
<text x="0.00" y="0.00" font-size="9.5" text-anchor="end" fill="#222" transform="translate(317.60,565.60) scale(1.353,1)">1,200</text>
<line x1="319.80" y1="550.00" x2="323.00" y2="550.00" stroke="#000" stroke-width="1.0"/>
<text x="0.00" y="0.00" font-size="9.5" text-anchor="end" fill="#222" transform="translate(317.60,552.90) scale(1.353,1)">1,400</text>
<line x1="319.80" y1="537.30" x2="323.00" y2="537.30" stroke="#000" stroke-width="1.0"/>
<text x="0.00" y="0.00" font-size="9.5" text-anchor="end" fill="#222" transform="translate(317.60,540.20) scale(1.353,1)">1,600</text>
<line x1="341.20" y1="638.90" x2="341.20" y2="641.30" stroke="#000" stroke-width="1.0"/>
<line x1="359.45" y1="638.90" x2="359.45" y2="641.30" stroke="#000" stroke-width="1.0"/>
<line x1="377.70" y1="638.90" x2="377.70" y2="641.30" stroke="#000" stroke-width="1.0"/>
<line x1="395.95" y1="638.90" x2="395.95" y2="641.30" stroke="#000" stroke-width="1.0"/>
<line x1="414.20" y1="638.90" x2="414.20" y2="641.30" stroke="#000" stroke-width="1.0"/>
<line x1="432.45" y1="638.90" x2="432.45" y2="641.30" stroke="#000" stroke-width="1.0"/>
<line x1="450.70" y1="638.90" x2="450.70" y2="641.30" stroke="#000" stroke-width="1.0"/>
<line x1="468.95" y1="638.90" x2="468.95" y2="641.30" stroke="#000" stroke-width="1.0"/>
<line x1="487.20" y1="638.90" x2="487.20" y2="641.30" stroke="#000" stroke-width="1.0"/>
<text x="0.00" y="0.00" font-size="6.5" text-anchor="middle" fill="#222" transform="translate(332.07,650.00) scale(1.360,1)">pre</text>
<text x="0.00" y="0.00" font-size="6.5" text-anchor="middle" fill="#222" transform="translate(350.32,650.00) scale(1.360,1)">0</text>
<text x="0.00" y="0.00" font-size="6.5" text-anchor="middle" fill="#222" transform="translate(368.57,650.00) scale(1.360,1)">6</text>
<text x="0.00" y="0.00" font-size="6.5" text-anchor="middle" fill="#222" transform="translate(386.82,650.00) scale(1.360,1)">12</text>
<text x="0.00" y="0.00" font-size="6.5" text-anchor="middle" fill="#222" transform="translate(405.07,650.00) scale(1.360,1)">17</text>
<text x="0.00" y="0.00" font-size="6.5" text-anchor="middle" fill="#222" transform="translate(423.32,650.00) scale(1.360,1)">24</text>
<text x="0.00" y="0.00" font-size="6.5" text-anchor="middle" fill="#222" transform="translate(441.57,650.00) scale(1.360,1)">38</text>
<text x="0.00" y="0.00" font-size="6.5" text-anchor="middle" fill="#222" transform="translate(459.82,650.00) scale(1.360,1)">48</text>
<text x="0.00" y="0.00" font-size="6.5" text-anchor="middle" fill="#222" transform="translate(478.07,650.00) scale(1.360,1)">60</text>
<rect x="432.55" y="543.35" width="7.00" height="5.60" fill="#fff" stroke="#222" stroke-width="1.1"/>
<text x="0.00" y="0.00" font-size="9.6" fill="#111" transform="translate(444.40,549.80) scale(1.300,1)">RM4a</text>
<rect x="432.00" y="553.20" width="8.10" height="6.10" fill="#000"/>
<text x="0.00" y="0.00" font-size="9.6" fill="#111" transform="translate(444.40,559.90) scale(1.300,1)">RM4b</text>
<rect x="432.40" y="563.60" width="7.30" height="5.40" fill="url(#hatch)" stroke="#111" stroke-width="0.8"/>
<text x="0.00" y="0.00" font-size="9.6" fill="#111" transform="translate(444.40,570.10) scale(1.300,1)">RM4c</text>
<text transform="translate(278.80,585.50) rotate(-90) scale(1.057,1)" text-anchor="middle" font-size="10.0" font-weight="bold" fill="#111">Flu pCTL/10<tspan font-size="70%" dy="-3">6</tspan><tspan dy="3"> </tspan>PBMC</text>
<text x="266.30" y="524.30" font-size="16.5" font-weight="bold" fill="#000">G</text>
<text x="383.50" y="533.80" font-size="10.3" font-weight="bold" fill="#111">group 4</text>
<text x="476.20" y="660.70" font-size="10.1" font-weight="bold" fill="#111">weeks pi</text>
<text x="359.00" y="665.50" font-size="10.7" font-weight="bold" fill="#111">PMPA</text>
<text x="392.50" y="671.00" font-size="10.4" font-weight="bold" fill="#111">transfusions</text>
<line x1="391.25" y1="653.00" x2="402.00" y2="653.00" stroke="#000" stroke-width="1.2"/>
<circle cx="391.25" cy="653.00" r="2.5" fill="#000"/>
<circle cx="402.00" cy="653.00" r="2.5" fill="#000"/>
<line x1="397.00" y1="658.50" x2="415.00" y2="658.50" stroke="#000" stroke-width="1.2"/>
<circle cx="397.00" cy="658.50" r="2.5" fill="#000"/>
<circle cx="415.00" cy="658.50" r="2.5" fill="#000"/>
</g>
</svg>
</body></html>
